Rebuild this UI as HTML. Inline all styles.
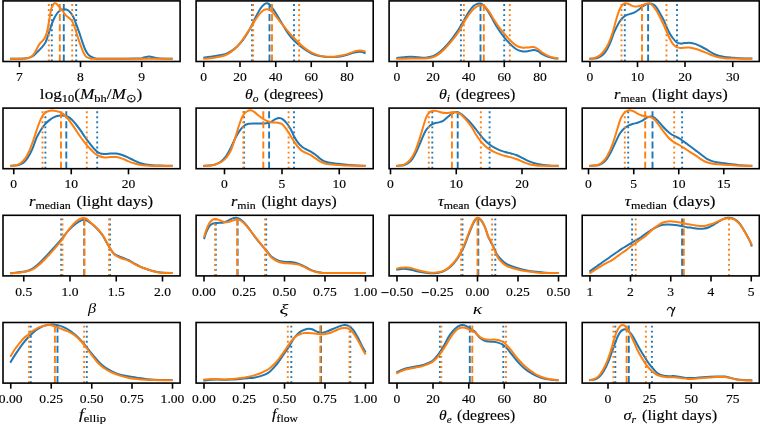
<!DOCTYPE html><html><head><meta charset="utf-8"><style>html,body{margin:0;padding:0;background:#fff;width:760px;height:424px;overflow:hidden}svg{display:block;will-change:transform}text{font-family:"Liberation Serif",serif;fill:#000;stroke:#000;stroke-width:0.15px}.tk{font-size:12.70px}</style></head><body><svg width="760" height="424" viewBox="0 0 760 424"><g><path d="M10.00,58.70 C12.50,58.67 21.28,58.90 25.00,58.50 C28.72,58.10 30.35,57.28 32.30,56.30 C34.25,55.32 35.23,53.95 36.70,52.60 C38.17,51.25 39.63,49.90 41.10,48.20 C42.57,46.50 44.17,45.07 45.50,42.40 C46.83,39.73 48.02,35.37 49.10,32.20 C50.18,29.03 51.02,25.97 52.00,23.40 C52.98,20.83 54.02,18.63 55.00,16.80 C55.98,14.97 56.85,13.55 57.90,12.40 C58.95,11.25 60.20,10.43 61.30,9.90 C62.40,9.37 63.48,9.20 64.50,9.20 C65.52,9.20 66.43,9.37 67.40,9.90 C68.37,10.43 69.33,11.25 70.30,12.40 C71.27,13.55 72.22,14.85 73.20,16.80 C74.18,18.75 75.22,21.53 76.20,24.10 C77.18,26.67 78.13,29.40 79.10,32.20 C80.07,35.00 81.03,38.10 82.00,40.90 C82.97,43.70 83.92,46.80 84.90,49.00 C85.88,51.20 86.80,52.77 87.90,54.10 C89.00,55.43 90.05,56.22 91.50,57.00 C92.95,57.78 95.18,58.50 96.60,58.80 C98.02,59.10 93.10,58.83 100.00,58.80 C106.90,58.77 130.83,58.77 138.00,58.60 C145.17,58.43 141.17,58.17 143.00,57.80 C144.83,57.43 147.00,56.40 149.00,56.40 C151.00,56.40 153.17,57.43 155.00,57.80 C156.83,58.17 157.07,58.43 160.00,58.60 C162.93,58.77 170.50,58.77 172.60,58.80" fill="none" stroke="#1f77b4" stroke-width="2.0" stroke-linejoin="round" stroke-linecap="butt"/><line x1="51.80" y1="61.50" x2="51.80" y2="0.90" stroke="#1f77b4" stroke-width="1.9" stroke-dasharray="1.9,3.15"/><line x1="76.20" y1="61.50" x2="76.20" y2="0.90" stroke="#1f77b4" stroke-width="1.9" stroke-dasharray="1.9,3.15"/><line x1="63.80" y1="61.50" x2="63.80" y2="0.90" stroke="#1f77b4" stroke-width="1.9" stroke-dasharray="7.0,3.1"/><path d="M10.00,58.70 C12.50,58.67 21.77,58.67 25.00,58.50 C28.23,58.33 27.93,58.43 29.40,57.70 C30.87,56.97 32.58,55.55 33.80,54.10 C35.02,52.65 35.73,50.70 36.70,49.00 C37.67,47.30 38.63,45.25 39.60,43.90 C40.57,42.55 41.65,41.88 42.50,40.90 C43.35,39.92 43.97,39.45 44.70,38.00 C45.43,36.55 46.28,34.38 46.90,32.20 C47.52,30.02 47.90,27.58 48.40,24.90 C48.90,22.22 49.42,18.78 49.90,16.10 C50.38,13.42 50.70,10.80 51.30,8.80 C51.90,6.80 52.82,5.03 53.50,4.10 C54.18,3.17 54.73,3.10 55.40,3.20 C56.07,3.30 56.72,3.90 57.50,4.70 C58.28,5.50 59.23,6.95 60.10,8.00 C60.97,9.05 61.85,9.90 62.70,11.00 C63.55,12.10 64.30,13.55 65.20,14.60 C66.10,15.65 67.13,16.45 68.10,17.30 C69.07,18.15 70.15,18.68 71.00,19.70 C71.85,20.72 72.47,21.82 73.20,23.40 C73.93,24.98 74.67,27.02 75.40,29.20 C76.13,31.38 76.73,33.82 77.60,36.50 C78.47,39.18 79.62,42.62 80.60,45.30 C81.58,47.98 82.53,50.65 83.50,52.60 C84.47,54.55 85.18,56.02 86.40,57.00 C87.62,57.98 88.53,58.20 90.80,58.50 C93.07,58.80 86.37,58.75 100.00,58.80 C113.63,58.85 160.50,58.80 172.60,58.80" fill="none" stroke="#ff7f0e" stroke-width="2.0" stroke-linejoin="round" stroke-linecap="butt"/><line x1="48.80" y1="61.50" x2="48.80" y2="0.90" stroke="#ff7f0e" stroke-width="1.9" stroke-dasharray="1.9,3.15"/><line x1="72.20" y1="61.50" x2="72.20" y2="0.90" stroke="#ff7f0e" stroke-width="1.9" stroke-dasharray="1.9,3.15"/><line x1="59.80" y1="61.50" x2="59.80" y2="0.90" stroke="#ff7f0e" stroke-width="1.9" stroke-dasharray="7.0,3.1"/><rect x="3.00" y="0.90" width="177.10" height="60.60" fill="none" stroke="#000" stroke-width="1.6"/><line x1="19.40" y1="61.50" x2="19.40" y2="67.10" stroke="#000" stroke-width="1.6"/><g transform="translate(19.40,81.20) scale(1.070,1)"><text x="0" y="0" class="tk" text-anchor="middle">7</text></g><line x1="80.50" y1="61.50" x2="80.50" y2="67.10" stroke="#000" stroke-width="1.6"/><g transform="translate(80.50,81.20) scale(1.070,1)"><text x="0" y="0" class="tk" text-anchor="middle">8</text></g><line x1="141.70" y1="61.50" x2="141.70" y2="67.10" stroke="#000" stroke-width="1.6"/><g transform="translate(141.70,81.20) scale(1.070,1)"><text x="0" y="0" class="tk" text-anchor="middle">9</text></g><g transform="translate(39.85,98.70) scale(1.1494,1)"><text id="lab0" x="0" y="0"><tspan font-style="normal" font-size="15.00" dy="0.00" dx="0.00">log</tspan><tspan font-style="normal" font-size="10.80" dy="3.00" dx="0.00">10</tspan><tspan font-style="normal" font-size="15.00" dy="-3.00" dx="0.00">(</tspan><tspan font-style="italic" font-size="15.00" dy="0.00" dx="0.00">M</tspan><tspan font-style="normal" font-size="10.80" dy="3.00" dx="0.00">bh</tspan><tspan font-style="normal" font-size="15.00" dy="-3.00" dx="0.00">/</tspan><tspan font-style="italic" font-size="15.00" dy="0.00" dx="0.00">M</tspan><tspan font-style="normal" font-size="10.80" dy="3.00" dx="0.00">⊙</tspan><tspan font-style="normal" font-size="15.00" dy="-3.00" dx="0.00">)</tspan></text></g></g><g><path d="M203.30,57.70 C204.52,57.53 208.17,57.05 210.60,56.70 C213.03,56.35 215.47,56.03 217.90,55.60 C220.33,55.17 223.00,54.83 225.20,54.10 C227.40,53.37 229.15,52.42 231.10,51.20 C233.05,49.98 234.95,48.63 236.90,46.80 C238.85,44.97 241.08,42.40 242.80,40.20 C244.52,38.00 245.73,36.03 247.20,33.60 C248.67,31.17 250.15,28.40 251.60,25.60 C253.05,22.80 254.45,19.60 255.90,16.80 C257.35,14.00 258.95,10.87 260.30,8.80 C261.65,6.73 262.90,5.33 264.00,4.40 C265.10,3.47 266.05,3.25 266.90,3.20 C267.75,3.15 268.37,3.53 269.10,4.10 C269.83,4.67 270.33,5.33 271.30,6.60 C272.27,7.87 273.57,9.63 274.90,11.70 C276.23,13.77 277.83,16.57 279.30,19.00 C280.77,21.43 282.32,24.03 283.70,26.30 C285.08,28.57 286.25,30.65 287.60,32.60 C288.95,34.55 290.37,36.37 291.80,38.00 C293.23,39.63 294.75,41.05 296.20,42.40 C297.65,43.75 298.80,44.77 300.50,46.10 C302.20,47.43 304.45,49.12 306.40,50.40 C308.35,51.68 310.02,52.87 312.20,53.80 C314.38,54.73 317.05,55.47 319.50,56.00 C321.95,56.53 324.45,56.83 326.90,57.00 C329.35,57.17 331.77,57.12 334.20,57.00 C336.63,56.88 339.32,56.67 341.50,56.30 C343.68,55.93 345.35,55.37 347.30,54.80 C349.25,54.23 351.48,53.38 353.20,52.90 C354.92,52.42 356.13,52.07 357.60,51.90 C359.07,51.73 360.67,51.65 362.00,51.90 C363.33,52.15 365.00,53.15 365.60,53.40" fill="none" stroke="#1f77b4" stroke-width="2.0" stroke-linejoin="round" stroke-linecap="butt"/><line x1="252.00" y1="61.50" x2="252.00" y2="0.90" stroke="#1f77b4" stroke-width="1.9" stroke-dasharray="1.9,3.15"/><line x1="294.00" y1="61.50" x2="294.00" y2="0.90" stroke="#1f77b4" stroke-width="1.9" stroke-dasharray="1.9,3.15"/><line x1="269.50" y1="61.50" x2="269.50" y2="0.90" stroke="#1f77b4" stroke-width="1.9" stroke-dasharray="7.0,3.1"/><path d="M203.30,58.80 C204.52,58.70 208.17,58.50 210.60,58.20 C213.03,57.90 215.47,57.48 217.90,57.00 C220.33,56.52 223.00,56.15 225.20,55.30 C227.40,54.45 229.15,53.32 231.10,51.90 C233.05,50.48 234.95,48.87 236.90,46.80 C238.85,44.73 241.08,41.82 242.80,39.50 C244.52,37.18 245.73,35.10 247.20,32.90 C248.67,30.70 250.15,28.62 251.60,26.30 C253.05,23.98 254.45,21.18 255.90,19.00 C257.35,16.82 258.95,14.72 260.30,13.20 C261.65,11.68 262.90,10.57 264.00,9.90 C265.10,9.23 265.93,9.20 266.90,9.20 C267.87,9.20 268.82,9.37 269.80,9.90 C270.78,10.43 271.70,11.25 272.80,12.40 C273.90,13.55 275.07,15.08 276.40,16.80 C277.73,18.52 279.33,20.87 280.80,22.70 C282.27,24.53 284.10,26.47 285.20,27.80 C286.30,29.13 286.30,29.37 287.40,30.70 C288.50,32.03 290.33,34.22 291.80,35.80 C293.27,37.38 294.75,38.73 296.20,40.20 C297.65,41.67 298.80,43.07 300.50,44.60 C302.20,46.13 304.45,48.02 306.40,49.40 C308.35,50.78 310.02,51.87 312.20,52.90 C314.38,53.93 317.05,54.97 319.50,55.60 C321.95,56.23 324.45,56.52 326.90,56.70 C329.35,56.88 331.77,56.88 334.20,56.70 C336.63,56.52 339.32,56.03 341.50,55.60 C343.68,55.17 345.35,54.72 347.30,54.10 C349.25,53.48 351.48,52.47 353.20,51.90 C354.92,51.33 356.13,50.90 357.60,50.70 C359.07,50.50 360.67,50.55 362.00,50.70 C363.33,50.85 365.00,51.45 365.60,51.60" fill="none" stroke="#ff7f0e" stroke-width="2.0" stroke-linejoin="round" stroke-linecap="butt"/><line x1="253.20" y1="61.50" x2="253.20" y2="0.90" stroke="#ff7f0e" stroke-width="1.9" stroke-dasharray="1.9,3.15"/><line x1="299.10" y1="61.50" x2="299.10" y2="0.90" stroke="#ff7f0e" stroke-width="1.9" stroke-dasharray="1.9,3.15"/><line x1="272.00" y1="61.50" x2="272.00" y2="0.90" stroke="#ff7f0e" stroke-width="1.9" stroke-dasharray="7.0,3.1"/><rect x="196.10" y="0.90" width="177.10" height="60.60" fill="none" stroke="#000" stroke-width="1.6"/><line x1="203.75" y1="61.50" x2="203.75" y2="67.10" stroke="#000" stroke-width="1.6"/><g transform="translate(203.75,81.20) scale(1.070,1)"><text x="0" y="0" class="tk" text-anchor="middle">0</text></g><line x1="240.00" y1="61.50" x2="240.00" y2="67.10" stroke="#000" stroke-width="1.6"/><g transform="translate(240.00,81.20) scale(1.070,1)"><text x="0" y="0" class="tk" text-anchor="middle">20</text></g><line x1="275.75" y1="61.50" x2="275.75" y2="67.10" stroke="#000" stroke-width="1.6"/><g transform="translate(275.75,81.20) scale(1.070,1)"><text x="0" y="0" class="tk" text-anchor="middle">40</text></g><line x1="311.25" y1="61.50" x2="311.25" y2="67.10" stroke="#000" stroke-width="1.6"/><g transform="translate(311.25,81.20) scale(1.070,1)"><text x="0" y="0" class="tk" text-anchor="middle">60</text></g><line x1="347.00" y1="61.50" x2="347.00" y2="67.10" stroke="#000" stroke-width="1.6"/><g transform="translate(347.00,81.20) scale(1.070,1)"><text x="0" y="0" class="tk" text-anchor="middle">80</text></g><g transform="translate(244.94,98.70) scale(1.0625,1)"><text id="lab1" x="0" y="0"><tspan font-style="italic" font-size="15.00" dy="0.00" dx="0.00">θ</tspan><tspan font-style="italic" font-size="10.80" dy="3.00" dx="0.00">o</tspan><tspan font-style="normal" font-size="15.00" dy="-3.00" dx="1.50"> (degrees)</tspan></text></g></g><g><path d="M396.30,58.00 C397.52,57.88 401.17,57.52 403.60,57.30 C406.03,57.08 408.47,56.70 410.90,56.70 C413.33,56.70 415.77,57.13 418.20,57.30 C420.63,57.47 423.05,57.87 425.50,57.70 C427.95,57.53 430.70,57.10 432.90,56.30 C435.10,55.50 436.75,54.37 438.70,52.90 C440.65,51.43 442.65,49.50 444.60,47.50 C446.55,45.50 448.45,43.33 450.40,40.90 C452.35,38.47 454.60,35.33 456.30,32.90 C458.00,30.47 459.15,28.73 460.60,26.30 C462.05,23.87 463.53,20.85 465.00,18.30 C466.47,15.75 467.93,13.08 469.40,11.00 C470.87,8.92 472.45,7.00 473.80,5.80 C475.15,4.60 476.47,4.17 477.50,3.80 C478.53,3.43 479.25,3.55 480.00,3.60 C480.75,3.65 481.13,3.48 482.00,4.10 C482.87,4.72 483.93,5.67 485.20,7.30 C486.47,8.93 488.13,11.47 489.60,13.90 C491.07,16.33 492.53,19.35 494.00,21.90 C495.47,24.45 496.70,26.63 498.40,29.20 C500.10,31.77 502.25,34.85 504.20,37.30 C506.15,39.75 508.15,41.95 510.10,43.90 C512.05,45.85 513.95,47.78 515.90,49.00 C517.85,50.22 519.85,50.83 521.80,51.20 C523.75,51.57 525.65,51.38 527.60,51.20 C529.55,51.02 531.78,50.10 533.50,50.10 C535.22,50.10 536.43,50.53 537.90,51.20 C539.37,51.87 540.60,53.18 542.30,54.10 C544.00,55.02 546.15,56.02 548.10,56.70 C550.05,57.38 552.30,57.90 554.00,58.20 C555.70,58.50 557.58,58.45 558.30,58.50" fill="none" stroke="#1f77b4" stroke-width="2.0" stroke-linejoin="round" stroke-linecap="butt"/><line x1="460.90" y1="61.50" x2="460.90" y2="0.90" stroke="#1f77b4" stroke-width="1.9" stroke-dasharray="1.9,3.15"/><line x1="504.20" y1="61.50" x2="504.20" y2="0.90" stroke="#1f77b4" stroke-width="1.9" stroke-dasharray="1.9,3.15"/><line x1="480.50" y1="61.50" x2="480.50" y2="0.90" stroke="#1f77b4" stroke-width="1.9" stroke-dasharray="7.0,3.1"/><path d="M396.30,58.80 C398.73,58.75 406.03,58.55 410.90,58.50 C415.77,58.45 421.83,58.70 425.50,58.50 C429.17,58.30 430.70,58.03 432.90,57.30 C435.10,56.57 436.75,55.48 438.70,54.10 C440.65,52.72 442.65,50.95 444.60,49.00 C446.55,47.05 448.45,44.72 450.40,42.40 C452.35,40.08 454.60,37.42 456.30,35.10 C458.00,32.78 459.15,30.93 460.60,28.50 C462.05,26.07 463.53,22.93 465.00,20.50 C466.47,18.07 467.93,15.85 469.40,13.90 C470.87,11.95 472.45,10.10 473.80,8.80 C475.15,7.50 476.28,6.67 477.50,6.10 C478.72,5.53 480.10,5.53 481.10,5.40 C482.10,5.27 482.82,5.10 483.50,5.30 C484.18,5.50 484.18,5.42 485.20,6.60 C486.22,7.78 488.13,10.22 489.60,12.40 C491.07,14.58 492.53,17.38 494.00,19.70 C495.47,22.02 496.70,23.98 498.40,26.30 C500.10,28.62 502.25,31.28 504.20,33.60 C506.15,35.92 508.15,38.25 510.10,40.20 C512.05,42.15 513.95,44.08 515.90,45.30 C517.85,46.52 519.85,47.13 521.80,47.50 C523.75,47.87 525.65,47.57 527.60,47.50 C529.55,47.43 531.78,46.85 533.50,47.10 C535.22,47.35 536.43,48.08 537.90,49.00 C539.37,49.92 540.60,51.47 542.30,52.60 C544.00,53.73 546.15,54.95 548.10,55.80 C550.05,56.65 552.30,57.25 554.00,57.70 C555.70,58.15 557.58,58.37 558.30,58.50" fill="none" stroke="#ff7f0e" stroke-width="2.0" stroke-linejoin="round" stroke-linecap="butt"/><line x1="463.90" y1="61.50" x2="463.90" y2="0.90" stroke="#ff7f0e" stroke-width="1.9" stroke-dasharray="1.9,3.15"/><line x1="509.80" y1="61.50" x2="509.80" y2="0.90" stroke="#ff7f0e" stroke-width="1.9" stroke-dasharray="1.9,3.15"/><line x1="483.80" y1="61.50" x2="483.80" y2="0.90" stroke="#ff7f0e" stroke-width="1.9" stroke-dasharray="7.0,3.1"/><rect x="389.10" y="0.90" width="177.10" height="60.60" fill="none" stroke="#000" stroke-width="1.6"/><line x1="397.00" y1="61.50" x2="397.00" y2="67.10" stroke="#000" stroke-width="1.6"/><g transform="translate(397.00,81.20) scale(1.070,1)"><text x="0" y="0" class="tk" text-anchor="middle">0</text></g><line x1="433.00" y1="61.50" x2="433.00" y2="67.10" stroke="#000" stroke-width="1.6"/><g transform="translate(433.00,81.20) scale(1.070,1)"><text x="0" y="0" class="tk" text-anchor="middle">20</text></g><line x1="468.75" y1="61.50" x2="468.75" y2="67.10" stroke="#000" stroke-width="1.6"/><g transform="translate(468.75,81.20) scale(1.070,1)"><text x="0" y="0" class="tk" text-anchor="middle">40</text></g><line x1="504.25" y1="61.50" x2="504.25" y2="67.10" stroke="#000" stroke-width="1.6"/><g transform="translate(504.25,81.20) scale(1.070,1)"><text x="0" y="0" class="tk" text-anchor="middle">60</text></g><line x1="540.00" y1="61.50" x2="540.00" y2="67.10" stroke="#000" stroke-width="1.6"/><g transform="translate(540.00,81.20) scale(1.070,1)"><text x="0" y="0" class="tk" text-anchor="middle">80</text></g><g transform="translate(438.93,98.70) scale(1.0714,1)"><text id="lab2" x="0" y="0"><tspan font-style="italic" font-size="15.00" dy="0.00" dx="0.00">θ</tspan><tspan font-style="italic" font-size="10.80" dy="3.00" dx="0.00">i</tspan><tspan font-style="normal" font-size="15.00" dy="-3.00" dx="1.50"> (degrees)</tspan></text></g></g><g><path d="M589.30,58.80 C590.52,58.70 594.65,58.62 596.60,58.20 C598.55,57.78 599.53,57.35 601.00,56.30 C602.47,55.25 603.93,53.97 605.40,51.90 C606.87,49.83 608.33,47.18 609.80,43.90 C611.27,40.62 612.75,35.62 614.20,32.20 C615.65,28.78 617.17,25.72 618.50,23.40 C619.83,21.08 620.97,19.63 622.20,18.30 C623.43,16.97 624.57,16.13 625.90,15.40 C627.23,14.67 628.75,14.40 630.20,13.90 C631.65,13.40 633.13,13.13 634.60,12.40 C636.07,11.67 637.53,10.60 639.00,9.50 C640.47,8.40 641.93,6.77 643.40,5.80 C644.87,4.83 646.47,4.05 647.80,3.70 C649.13,3.35 650.18,3.35 651.40,3.70 C652.62,4.05 653.75,4.35 655.10,5.80 C656.45,7.25 658.03,9.95 659.50,12.40 C660.97,14.85 662.65,17.90 663.90,20.50 C665.15,23.10 666.07,25.92 667.00,28.00 C667.93,30.08 668.57,31.37 669.50,33.00 C670.43,34.63 671.48,36.30 672.60,37.80 C673.72,39.30 674.87,41.03 676.20,42.00 C677.53,42.97 679.13,43.42 680.60,43.60 C682.07,43.78 683.53,43.23 685.00,43.10 C686.47,42.97 687.70,42.67 689.40,42.80 C691.10,42.93 693.25,43.28 695.20,43.90 C697.15,44.52 699.15,45.53 701.10,46.50 C703.05,47.47 704.95,48.55 706.90,49.70 C708.85,50.85 710.85,52.38 712.80,53.40 C714.75,54.42 716.65,55.20 718.60,55.80 C720.55,56.40 722.30,56.68 724.50,57.00 C726.70,57.32 729.37,57.50 731.80,57.70 C734.23,57.90 735.68,58.07 739.10,58.20 C742.52,58.33 750.10,58.45 752.30,58.50" fill="none" stroke="#1f77b4" stroke-width="2.0" stroke-linejoin="round" stroke-linecap="butt"/><line x1="624.80" y1="61.50" x2="624.80" y2="0.90" stroke="#1f77b4" stroke-width="1.9" stroke-dasharray="1.9,3.15"/><line x1="677.00" y1="61.50" x2="677.00" y2="0.90" stroke="#1f77b4" stroke-width="1.9" stroke-dasharray="1.9,3.15"/><line x1="648.10" y1="61.50" x2="648.10" y2="0.90" stroke="#1f77b4" stroke-width="1.9" stroke-dasharray="7.0,3.1"/><path d="M589.30,58.80 C590.28,58.62 593.50,58.23 595.20,57.70 C596.90,57.17 598.05,56.68 599.50,55.60 C600.95,54.52 602.43,53.15 603.90,51.20 C605.37,49.25 606.83,47.07 608.30,43.90 C609.77,40.73 611.35,36.35 612.70,32.20 C614.05,28.05 615.30,22.67 616.40,19.00 C617.50,15.33 618.33,12.52 619.30,10.20 C620.27,7.88 621.23,6.27 622.20,5.10 C623.17,3.93 624.12,3.43 625.10,3.20 C626.08,2.97 627.00,3.30 628.10,3.70 C629.20,4.10 630.48,5.12 631.70,5.60 C632.92,6.08 634.18,6.52 635.40,6.60 C636.62,6.68 637.78,6.35 639.00,6.10 C640.22,5.85 641.48,5.50 642.70,5.10 C643.92,4.70 645.20,3.93 646.30,3.70 C647.40,3.47 648.32,3.47 649.30,3.70 C650.28,3.93 650.98,3.88 652.20,5.10 C653.42,6.32 655.15,8.68 656.60,11.00 C658.05,13.32 659.45,16.08 660.90,19.00 C662.35,21.92 663.92,25.42 665.30,28.50 C666.68,31.58 667.95,34.93 669.20,37.50 C670.45,40.07 671.63,42.35 672.80,43.90 C673.97,45.45 674.90,46.12 676.20,46.80 C677.50,47.48 679.13,47.85 680.60,48.00 C682.07,48.15 683.53,47.78 685.00,47.70 C686.47,47.62 687.70,47.33 689.40,47.50 C691.10,47.67 693.25,48.17 695.20,48.70 C697.15,49.23 699.15,49.97 701.10,50.70 C703.05,51.43 704.95,52.28 706.90,53.10 C708.85,53.92 710.85,54.90 712.80,55.60 C714.75,56.30 716.65,56.87 718.60,57.30 C720.55,57.73 722.30,58.00 724.50,58.20 C726.70,58.40 727.17,58.40 731.80,58.50 C736.43,58.60 748.88,58.75 752.30,58.80" fill="none" stroke="#ff7f0e" stroke-width="2.0" stroke-linejoin="round" stroke-linecap="butt"/><line x1="621.50" y1="61.50" x2="621.50" y2="0.90" stroke="#ff7f0e" stroke-width="1.9" stroke-dasharray="1.9,3.15"/><line x1="666.50" y1="61.50" x2="666.50" y2="0.90" stroke="#ff7f0e" stroke-width="1.9" stroke-dasharray="1.9,3.15"/><line x1="642.00" y1="61.50" x2="642.00" y2="0.90" stroke="#ff7f0e" stroke-width="1.9" stroke-dasharray="7.0,3.1"/><rect x="582.20" y="0.90" width="177.10" height="60.60" fill="none" stroke="#000" stroke-width="1.6"/><line x1="590.00" y1="61.50" x2="590.00" y2="67.10" stroke="#000" stroke-width="1.6"/><g transform="translate(590.00,81.20) scale(1.070,1)"><text x="0" y="0" class="tk" text-anchor="middle">0</text></g><line x1="637.50" y1="61.50" x2="637.50" y2="67.10" stroke="#000" stroke-width="1.6"/><g transform="translate(637.50,81.20) scale(1.070,1)"><text x="0" y="0" class="tk" text-anchor="middle">10</text></g><line x1="685.00" y1="61.50" x2="685.00" y2="67.10" stroke="#000" stroke-width="1.6"/><g transform="translate(685.00,81.20) scale(1.070,1)"><text x="0" y="0" class="tk" text-anchor="middle">20</text></g><line x1="732.75" y1="61.50" x2="732.75" y2="67.10" stroke="#000" stroke-width="1.6"/><g transform="translate(732.75,81.20) scale(1.070,1)"><text x="0" y="0" class="tk" text-anchor="middle">30</text></g><g transform="translate(613.95,98.70) scale(1.1029,1)"><text id="lab3" x="0" y="0"><tspan font-style="italic" font-size="15.00" dy="0.00" dx="0.00">r</tspan><tspan font-style="normal" font-size="10.80" dy="3.00" dx="0.00">mean</tspan><tspan font-style="normal" font-size="15.00" dy="-3.00" dx="1.50"> (light days)</tspan></text></g></g><g><path d="M10.30,165.90 C11.52,165.78 15.40,165.75 17.60,165.20 C19.80,164.65 21.78,163.90 23.50,162.60 C25.22,161.30 26.45,159.60 27.90,157.40 C29.35,155.20 30.75,152.68 32.20,149.40 C33.65,146.12 35.13,140.98 36.60,137.70 C38.07,134.42 39.53,132.02 41.00,129.70 C42.47,127.38 43.93,125.43 45.40,123.80 C46.87,122.17 48.33,121.00 49.80,119.90 C51.27,118.80 52.73,117.88 54.20,117.20 C55.67,116.52 57.15,116.08 58.60,115.80 C60.05,115.52 61.45,115.38 62.90,115.50 C64.35,115.62 65.83,115.85 67.30,116.50 C68.77,117.15 70.23,118.07 71.70,119.40 C73.17,120.73 74.63,122.67 76.10,124.50 C77.57,126.33 79.03,128.32 80.50,130.40 C81.97,132.48 83.43,134.93 84.90,137.00 C86.37,139.07 87.78,140.87 89.30,142.80 C90.82,144.73 92.42,146.93 94.00,148.60 C95.58,150.27 97.03,151.88 98.80,152.80 C100.57,153.72 102.65,153.98 104.60,154.10 C106.55,154.22 108.55,153.60 110.50,153.50 C112.45,153.40 114.35,153.25 116.30,153.50 C118.25,153.75 120.25,154.35 122.20,155.00 C124.15,155.65 126.05,156.50 128.00,157.40 C129.95,158.30 131.95,159.47 133.90,160.40 C135.85,161.33 137.75,162.32 139.70,163.00 C141.65,163.68 143.40,164.13 145.60,164.50 C147.80,164.87 150.47,165.03 152.90,165.20 C155.33,165.37 156.92,165.40 160.20,165.50 C163.48,165.60 170.53,165.75 172.60,165.80" fill="none" stroke="#1f77b4" stroke-width="2.0" stroke-linejoin="round" stroke-linecap="butt"/><line x1="45.40" y1="168.70" x2="45.40" y2="108.10" stroke="#1f77b4" stroke-width="1.9" stroke-dasharray="1.9,3.15"/><line x1="97.20" y1="168.70" x2="97.20" y2="108.10" stroke="#1f77b4" stroke-width="1.9" stroke-dasharray="1.9,3.15"/><line x1="66.30" y1="168.70" x2="66.30" y2="108.10" stroke="#1f77b4" stroke-width="1.9" stroke-dasharray="7.0,3.1"/><path d="M10.30,165.90 C11.28,165.78 14.50,165.63 16.20,165.20 C17.90,164.77 19.05,164.35 20.50,163.30 C21.95,162.25 23.43,160.97 24.90,158.90 C26.37,156.83 27.83,154.18 29.30,150.90 C30.77,147.62 32.23,143.35 33.70,139.20 C35.17,135.05 36.77,129.67 38.10,126.00 C39.43,122.33 40.48,119.43 41.70,117.20 C42.92,114.97 44.05,113.68 45.40,112.60 C46.75,111.52 48.33,111.02 49.80,110.70 C51.27,110.38 52.73,110.53 54.20,110.70 C55.67,110.87 57.15,111.22 58.60,111.70 C60.05,112.18 61.45,112.55 62.90,113.60 C64.35,114.65 65.83,116.30 67.30,118.00 C68.77,119.70 70.23,121.73 71.70,123.80 C73.17,125.87 74.63,128.20 76.10,130.40 C77.57,132.60 79.03,134.93 80.50,137.00 C81.97,139.07 83.43,140.98 84.90,142.80 C86.37,144.62 87.78,146.25 89.30,147.90 C90.82,149.55 92.42,151.35 94.00,152.70 C95.58,154.05 97.03,155.22 98.80,156.00 C100.57,156.78 102.65,157.22 104.60,157.40 C106.55,157.58 108.55,157.15 110.50,157.10 C112.45,157.05 114.35,156.85 116.30,157.10 C118.25,157.35 120.25,157.93 122.20,158.60 C124.15,159.27 126.05,160.32 128.00,161.10 C129.95,161.88 131.95,162.70 133.90,163.30 C135.85,163.90 137.75,164.33 139.70,164.70 C141.65,165.07 143.40,165.30 145.60,165.50 C147.80,165.70 148.40,165.80 152.90,165.90 C157.40,166.00 169.32,166.07 172.60,166.10" fill="none" stroke="#ff7f0e" stroke-width="2.0" stroke-linejoin="round" stroke-linecap="butt"/><line x1="42.50" y1="168.70" x2="42.50" y2="108.10" stroke="#ff7f0e" stroke-width="1.9" stroke-dasharray="1.9,3.15"/><line x1="86.80" y1="168.70" x2="86.80" y2="108.10" stroke="#ff7f0e" stroke-width="1.9" stroke-dasharray="1.9,3.15"/><line x1="61.00" y1="168.70" x2="61.00" y2="108.10" stroke="#ff7f0e" stroke-width="1.9" stroke-dasharray="7.0,3.1"/><rect x="3.00" y="108.10" width="177.10" height="60.60" fill="none" stroke="#000" stroke-width="1.6"/><line x1="13.75" y1="168.70" x2="13.75" y2="174.30" stroke="#000" stroke-width="1.6"/><g transform="translate(13.75,188.40) scale(1.070,1)"><text x="0" y="0" class="tk" text-anchor="middle">0</text></g><line x1="71.25" y1="168.70" x2="71.25" y2="174.30" stroke="#000" stroke-width="1.6"/><g transform="translate(71.25,188.40) scale(1.070,1)"><text x="0" y="0" class="tk" text-anchor="middle">10</text></g><line x1="128.50" y1="168.70" x2="128.50" y2="174.30" stroke="#000" stroke-width="1.6"/><g transform="translate(128.50,188.40) scale(1.070,1)"><text x="0" y="0" class="tk" text-anchor="middle">20</text></g><g transform="translate(28.94,205.90) scale(1.1136,1)"><text id="lab4" x="0" y="0"><tspan font-style="italic" font-size="15.00" dy="0.00" dx="0.00">r</tspan><tspan font-style="normal" font-size="10.80" dy="3.00" dx="0.00">median</tspan><tspan font-style="normal" font-size="15.00" dy="-3.00" dx="1.50"> (light days)</tspan></text></g></g><g><path d="M203.30,165.90 C204.77,165.78 209.67,165.63 212.10,165.20 C214.53,164.77 216.20,164.10 217.90,163.30 C219.60,162.50 220.83,161.75 222.30,160.40 C223.77,159.05 225.23,157.40 226.70,155.20 C228.17,153.00 229.63,150.12 231.10,147.20 C232.57,144.28 234.03,140.50 235.50,137.70 C236.97,134.90 238.45,132.40 239.90,130.40 C241.35,128.40 242.75,126.80 244.20,125.70 C245.65,124.60 246.88,124.18 248.60,123.80 C250.32,123.42 252.55,123.47 254.50,123.40 C256.45,123.33 258.35,123.43 260.30,123.40 C262.25,123.37 264.48,123.42 266.20,123.20 C267.92,122.98 269.15,122.73 270.60,122.10 C272.05,121.47 273.45,120.08 274.90,119.40 C276.35,118.72 277.92,117.97 279.30,118.00 C280.68,118.03 281.93,118.68 283.20,119.60 C284.47,120.52 285.72,122.02 286.90,123.50 C288.08,124.98 289.12,126.38 290.30,128.50 C291.48,130.62 292.78,133.93 294.00,136.20 C295.22,138.47 296.27,140.33 297.60,142.10 C298.93,143.87 300.53,145.58 302.00,146.80 C303.47,148.02 304.93,148.60 306.40,149.40 C307.87,150.20 309.33,150.75 310.80,151.60 C312.27,152.45 313.75,153.40 315.20,154.50 C316.65,155.60 318.05,157.10 319.50,158.20 C320.95,159.30 322.18,160.33 323.90,161.10 C325.62,161.87 327.60,162.37 329.80,162.80 C332.00,163.23 334.67,163.42 337.10,163.70 C339.53,163.98 341.72,164.25 344.40,164.50 C347.08,164.75 349.67,164.98 353.20,165.20 C356.73,165.42 363.53,165.70 365.60,165.80" fill="none" stroke="#1f77b4" stroke-width="2.0" stroke-linejoin="round" stroke-linecap="butt"/><line x1="244.10" y1="168.70" x2="244.10" y2="108.10" stroke="#1f77b4" stroke-width="1.9" stroke-dasharray="1.9,3.15"/><line x1="294.00" y1="168.70" x2="294.00" y2="108.10" stroke="#1f77b4" stroke-width="1.9" stroke-dasharray="1.9,3.15"/><line x1="269.10" y1="168.70" x2="269.10" y2="108.10" stroke="#1f77b4" stroke-width="1.9" stroke-dasharray="7.0,3.1"/><path d="M203.30,165.90 C204.52,165.83 208.40,165.82 210.60,165.50 C212.80,165.18 214.60,164.67 216.50,164.00 C218.40,163.33 220.33,162.58 222.00,161.50 C223.67,160.42 225.00,159.42 226.50,157.50 C228.00,155.58 229.50,153.42 231.00,150.00 C232.50,146.58 234.12,141.25 235.50,137.00 C236.88,132.75 238.05,128.08 239.30,124.50 C240.55,120.92 241.75,117.67 243.00,115.50 C244.25,113.33 245.50,112.38 246.80,111.50 C248.10,110.62 249.52,110.10 250.80,110.20 C252.08,110.30 253.15,111.17 254.50,112.10 C255.85,113.03 257.43,114.65 258.90,115.80 C260.37,116.95 261.85,118.10 263.30,119.00 C264.75,119.90 266.15,120.63 267.60,121.20 C269.05,121.77 270.28,122.13 272.00,122.40 C273.72,122.67 276.18,122.48 277.90,122.80 C279.62,123.12 280.85,123.17 282.30,124.30 C283.75,125.43 285.28,127.78 286.60,129.60 C287.92,131.42 288.97,133.23 290.20,135.20 C291.43,137.17 292.77,139.52 294.00,141.40 C295.23,143.28 296.27,144.92 297.60,146.50 C298.93,148.08 300.53,149.80 302.00,150.90 C303.47,152.00 304.93,152.38 306.40,153.10 C307.87,153.82 309.33,154.35 310.80,155.20 C312.27,156.05 313.75,157.22 315.20,158.20 C316.65,159.18 318.05,160.25 319.50,161.10 C320.95,161.95 322.18,162.77 323.90,163.30 C325.62,163.83 327.60,164.03 329.80,164.30 C332.00,164.57 334.67,164.70 337.10,164.90 C339.53,165.10 339.65,165.30 344.40,165.50 C349.15,165.70 362.07,166.00 365.60,166.10" fill="none" stroke="#ff7f0e" stroke-width="2.0" stroke-linejoin="round" stroke-linecap="butt"/><line x1="243.30" y1="168.70" x2="243.30" y2="108.10" stroke="#ff7f0e" stroke-width="1.9" stroke-dasharray="1.9,3.15"/><line x1="288.60" y1="168.70" x2="288.60" y2="108.10" stroke="#ff7f0e" stroke-width="1.9" stroke-dasharray="1.9,3.15"/><line x1="263.30" y1="168.70" x2="263.30" y2="108.10" stroke="#ff7f0e" stroke-width="1.9" stroke-dasharray="7.0,3.1"/><rect x="196.10" y="108.10" width="177.10" height="60.60" fill="none" stroke="#000" stroke-width="1.6"/><line x1="224.50" y1="168.70" x2="224.50" y2="174.30" stroke="#000" stroke-width="1.6"/><g transform="translate(224.50,188.40) scale(1.070,1)"><text x="0" y="0" class="tk" text-anchor="middle">0</text></g><line x1="282.00" y1="168.70" x2="282.00" y2="174.30" stroke="#000" stroke-width="1.6"/><g transform="translate(282.00,188.40) scale(1.070,1)"><text x="0" y="0" class="tk" text-anchor="middle">5</text></g><line x1="339.25" y1="168.70" x2="339.25" y2="174.30" stroke="#000" stroke-width="1.6"/><g transform="translate(339.25,188.40) scale(1.070,1)"><text x="0" y="0" class="tk" text-anchor="middle">10</text></g><g transform="translate(230.90,205.90) scale(1.0974,1)"><text id="lab5" x="0" y="0"><tspan font-style="italic" font-size="15.00" dy="0.00" dx="0.00">r</tspan><tspan font-style="normal" font-size="10.80" dy="3.00" dx="0.00">min</tspan><tspan font-style="normal" font-size="15.00" dy="-3.00" dx="1.50"> (light days)</tspan></text></g></g><g><path d="M396.30,165.90 C397.52,165.78 401.65,165.63 403.60,165.20 C405.55,164.77 406.53,164.35 408.00,163.30 C409.47,162.25 410.93,160.97 412.40,158.90 C413.87,156.83 415.33,153.95 416.80,150.90 C418.27,147.85 419.75,143.90 421.20,140.60 C422.65,137.30 424.05,133.58 425.50,131.10 C426.95,128.62 428.43,126.98 429.90,125.70 C431.37,124.42 432.83,123.95 434.30,123.40 C435.77,122.85 437.23,122.82 438.70,122.40 C440.17,121.98 441.63,121.77 443.10,120.90 C444.57,120.03 446.03,118.42 447.50,117.20 C448.97,115.98 450.43,114.45 451.90,113.60 C453.37,112.75 454.85,112.10 456.30,112.10 C457.75,112.10 459.15,112.75 460.60,113.60 C462.05,114.45 463.28,115.62 465.00,117.20 C466.72,118.78 469.00,120.97 470.90,123.10 C472.80,125.23 474.77,127.93 476.40,130.00 C478.03,132.07 479.30,133.78 480.70,135.50 C482.10,137.22 483.38,138.83 484.80,140.30 C486.22,141.77 487.75,143.15 489.20,144.30 C490.65,145.45 491.80,146.23 493.50,147.20 C495.20,148.17 497.45,149.30 499.40,150.10 C501.35,150.90 503.25,151.43 505.20,152.00 C507.15,152.57 509.15,152.97 511.10,153.50 C513.05,154.03 514.95,154.42 516.90,155.20 C518.85,155.98 520.85,157.22 522.80,158.20 C524.75,159.18 526.65,160.25 528.60,161.10 C530.55,161.95 532.30,162.70 534.50,163.30 C536.70,163.90 539.37,164.33 541.80,164.70 C544.23,165.07 546.30,165.32 549.10,165.50 C551.90,165.68 557.02,165.75 558.60,165.80" fill="none" stroke="#1f77b4" stroke-width="2.0" stroke-linejoin="round" stroke-linecap="butt"/><line x1="432.30" y1="168.70" x2="432.30" y2="108.10" stroke="#1f77b4" stroke-width="1.9" stroke-dasharray="1.9,3.15"/><line x1="489.60" y1="168.70" x2="489.60" y2="108.10" stroke="#1f77b4" stroke-width="1.9" stroke-dasharray="1.9,3.15"/><line x1="457.70" y1="168.70" x2="457.70" y2="108.10" stroke="#1f77b4" stroke-width="1.9" stroke-dasharray="7.0,3.1"/><path d="M396.30,165.90 C397.28,165.78 400.50,165.63 402.20,165.20 C403.90,164.77 405.05,164.35 406.50,163.30 C407.95,162.25 409.43,160.97 410.90,158.90 C412.37,156.83 413.83,154.32 415.30,150.90 C416.77,147.48 418.35,142.55 419.70,138.40 C421.05,134.25 422.30,129.53 423.40,126.00 C424.50,122.47 425.22,119.52 426.30,117.20 C427.38,114.88 428.68,113.18 429.90,112.10 C431.12,111.02 432.38,110.87 433.60,110.70 C434.82,110.53 435.87,110.78 437.20,111.10 C438.53,111.42 440.13,112.27 441.60,112.60 C443.07,112.93 444.53,113.10 446.00,113.10 C447.47,113.10 449.05,112.77 450.40,112.60 C451.75,112.43 453.00,112.10 454.10,112.10 C455.20,112.10 455.92,112.23 457.00,112.60 C458.08,112.97 459.27,113.28 460.60,114.30 C461.93,115.32 463.28,116.75 465.00,118.70 C466.72,120.65 469.00,123.25 470.90,126.00 C472.80,128.75 474.78,132.67 476.40,135.20 C478.02,137.73 479.20,139.45 480.60,141.20 C482.00,142.95 483.37,144.38 484.80,145.70 C486.23,147.02 487.75,148.12 489.20,149.10 C490.65,150.08 491.80,150.77 493.50,151.60 C495.20,152.43 497.45,153.37 499.40,154.10 C501.35,154.83 503.25,155.45 505.20,156.00 C507.15,156.55 509.15,156.85 511.10,157.40 C513.05,157.95 514.95,158.57 516.90,159.30 C518.85,160.03 520.85,161.02 522.80,161.80 C524.75,162.58 526.65,163.43 528.60,164.00 C530.55,164.57 532.30,164.90 534.50,165.20 C536.70,165.50 537.78,165.65 541.80,165.80 C545.82,165.95 555.80,166.05 558.60,166.10" fill="none" stroke="#ff7f0e" stroke-width="2.0" stroke-linejoin="round" stroke-linecap="butt"/><line x1="428.80" y1="168.70" x2="428.80" y2="108.10" stroke="#ff7f0e" stroke-width="1.9" stroke-dasharray="1.9,3.15"/><line x1="480.80" y1="168.70" x2="480.80" y2="108.10" stroke="#ff7f0e" stroke-width="1.9" stroke-dasharray="1.9,3.15"/><line x1="451.90" y1="168.70" x2="451.90" y2="108.10" stroke="#ff7f0e" stroke-width="1.9" stroke-dasharray="7.0,3.1"/><rect x="389.10" y="108.10" width="177.10" height="60.60" fill="none" stroke="#000" stroke-width="1.6"/><line x1="390.50" y1="168.70" x2="390.50" y2="174.30" stroke="#000" stroke-width="1.6"/><g transform="translate(390.50,188.40) scale(1.070,1)"><text x="0" y="0" class="tk" text-anchor="middle">0</text></g><line x1="456.25" y1="168.70" x2="456.25" y2="174.30" stroke="#000" stroke-width="1.6"/><g transform="translate(456.25,188.40) scale(1.070,1)"><text x="0" y="0" class="tk" text-anchor="middle">10</text></g><line x1="522.00" y1="168.70" x2="522.00" y2="174.30" stroke="#000" stroke-width="1.6"/><g transform="translate(522.00,188.40) scale(1.070,1)"><text x="0" y="0" class="tk" text-anchor="middle">20</text></g><g transform="translate(437.95,205.90) scale(1.1000,1)"><text id="lab6" x="0" y="0"><tspan font-style="italic" font-size="15.00" dy="0.00" dx="0.00">τ</tspan><tspan font-style="normal" font-size="10.80" dy="3.00" dx="0.00">mean</tspan><tspan font-style="normal" font-size="15.00" dy="-3.00" dx="1.50"> (days)</tspan></text></g></g><g><path d="M589.30,165.90 C590.77,165.78 595.90,165.63 598.10,165.20 C600.30,164.77 601.03,164.35 602.50,163.30 C603.97,162.25 605.45,160.85 606.90,158.90 C608.35,156.95 609.75,154.40 611.20,151.60 C612.65,148.80 614.13,145.15 615.60,142.10 C617.07,139.05 618.53,135.62 620.00,133.30 C621.47,130.98 622.93,129.53 624.40,128.20 C625.87,126.87 627.33,126.03 628.80,125.30 C630.27,124.57 631.73,124.22 633.20,123.80 C634.67,123.38 636.15,123.28 637.60,122.80 C639.05,122.32 640.45,121.70 641.90,120.90 C643.35,120.10 644.95,118.73 646.30,118.00 C647.65,117.27 648.78,116.63 650.00,116.50 C651.22,116.37 652.27,116.47 653.60,117.20 C654.93,117.93 656.53,119.43 658.00,120.90 C659.47,122.37 660.98,124.43 662.40,126.00 C663.82,127.57 665.10,128.97 666.50,130.30 C667.90,131.63 669.42,133.02 670.80,134.00 C672.18,134.98 673.40,135.47 674.80,136.20 C676.20,136.93 677.75,137.53 679.20,138.40 C680.65,139.27 681.80,140.18 683.50,141.40 C685.20,142.62 687.45,144.25 689.40,145.70 C691.35,147.15 693.25,148.63 695.20,150.10 C697.15,151.57 699.15,153.03 701.10,154.50 C703.05,155.97 704.95,157.75 706.90,158.90 C708.85,160.05 710.85,160.78 712.80,161.40 C714.75,162.02 716.65,162.28 718.60,162.60 C720.55,162.92 722.30,163.02 724.50,163.30 C726.70,163.58 729.37,163.98 731.80,164.30 C734.23,164.62 735.68,164.95 739.10,165.20 C742.52,165.45 750.10,165.70 752.30,165.80" fill="none" stroke="#1f77b4" stroke-width="2.0" stroke-linejoin="round" stroke-linecap="butt"/><line x1="628.20" y1="168.70" x2="628.20" y2="108.10" stroke="#1f77b4" stroke-width="1.9" stroke-dasharray="1.9,3.15"/><line x1="682.10" y1="168.70" x2="682.10" y2="108.10" stroke="#1f77b4" stroke-width="1.9" stroke-dasharray="1.9,3.15"/><line x1="652.50" y1="168.70" x2="652.50" y2="108.10" stroke="#1f77b4" stroke-width="1.9" stroke-dasharray="7.0,3.1"/><path d="M589.30,165.90 C590.52,165.78 594.65,165.63 596.60,165.20 C598.55,164.77 599.53,164.35 601.00,163.30 C602.47,162.25 603.93,160.97 605.40,158.90 C606.87,156.83 608.33,154.18 609.80,150.90 C611.27,147.62 612.87,143.10 614.20,139.20 C615.53,135.30 616.72,130.92 617.80,127.50 C618.88,124.08 619.72,121.02 620.70,118.70 C621.68,116.38 622.72,114.87 623.70,113.60 C624.68,112.33 625.63,111.67 626.60,111.10 C627.57,110.53 628.40,110.20 629.50,110.20 C630.60,110.20 631.85,110.53 633.20,111.10 C634.55,111.67 636.15,112.87 637.60,113.60 C639.05,114.33 640.45,115.02 641.90,115.50 C643.35,115.98 644.83,116.22 646.30,116.50 C647.77,116.78 649.23,116.58 650.70,117.20 C652.17,117.82 653.63,118.73 655.10,120.20 C656.57,121.67 658.03,124.05 659.50,126.00 C660.97,127.95 662.43,129.98 663.90,131.90 C665.37,133.82 666.85,135.95 668.30,137.50 C669.75,139.05 671.32,140.23 672.60,141.20 C673.88,142.17 674.90,142.67 676.00,143.30 C677.10,143.93 677.95,144.28 679.20,145.00 C680.45,145.72 681.80,146.50 683.50,147.60 C685.20,148.70 687.45,150.33 689.40,151.60 C691.35,152.87 693.25,153.92 695.20,155.20 C697.15,156.48 699.15,158.12 701.10,159.30 C703.05,160.48 704.95,161.57 706.90,162.30 C708.85,163.03 710.85,163.37 712.80,163.70 C714.75,164.03 716.17,164.10 718.60,164.30 C721.03,164.50 724.47,164.70 727.40,164.90 C730.33,165.10 732.05,165.30 736.20,165.50 C740.35,165.70 749.62,166.00 752.30,166.10" fill="none" stroke="#ff7f0e" stroke-width="2.0" stroke-linejoin="round" stroke-linecap="butt"/><line x1="624.80" y1="168.70" x2="624.80" y2="108.10" stroke="#ff7f0e" stroke-width="1.9" stroke-dasharray="1.9,3.15"/><line x1="674.20" y1="168.70" x2="674.20" y2="108.10" stroke="#ff7f0e" stroke-width="1.9" stroke-dasharray="1.9,3.15"/><line x1="645.20" y1="168.70" x2="645.20" y2="108.10" stroke="#ff7f0e" stroke-width="1.9" stroke-dasharray="7.0,3.1"/><rect x="582.20" y="108.10" width="177.10" height="60.60" fill="none" stroke="#000" stroke-width="1.6"/><line x1="588.50" y1="168.70" x2="588.50" y2="174.30" stroke="#000" stroke-width="1.6"/><g transform="translate(588.50,188.40) scale(1.070,1)"><text x="0" y="0" class="tk" text-anchor="middle">0</text></g><line x1="633.75" y1="168.70" x2="633.75" y2="174.30" stroke="#000" stroke-width="1.6"/><g transform="translate(633.75,188.40) scale(1.070,1)"><text x="0" y="0" class="tk" text-anchor="middle">5</text></g><line x1="678.75" y1="168.70" x2="678.75" y2="174.30" stroke="#000" stroke-width="1.6"/><g transform="translate(678.75,188.40) scale(1.070,1)"><text x="0" y="0" class="tk" text-anchor="middle">10</text></g><line x1="723.75" y1="168.70" x2="723.75" y2="174.30" stroke="#000" stroke-width="1.6"/><g transform="translate(723.75,188.40) scale(1.070,1)"><text x="0" y="0" class="tk" text-anchor="middle">15</text></g><g transform="translate(624.87,205.90) scale(1.1346,1)"><text id="lab7" x="0" y="0"><tspan font-style="italic" font-size="15.00" dy="0.00" dx="0.00">τ</tspan><tspan font-style="normal" font-size="10.80" dy="3.00" dx="0.00">median</tspan><tspan font-style="normal" font-size="15.00" dy="-3.00" dx="1.50"> (days)</tspan></text></g></g><g><path d="M10.30,273.20 C12.73,272.92 21.25,272.23 24.90,271.50 C28.55,270.77 29.77,270.22 32.20,268.80 C34.63,267.38 37.05,265.23 39.50,263.00 C41.95,260.77 44.45,258.02 46.90,255.40 C49.35,252.78 51.77,250.02 54.20,247.30 C56.63,244.58 59.07,241.97 61.50,239.10 C63.93,236.23 66.37,232.70 68.80,230.10 C71.23,227.50 73.90,225.17 76.10,223.50 C78.30,221.83 80.30,220.63 82.00,220.10 C83.70,219.57 84.75,219.73 86.30,220.30 C87.85,220.87 89.75,222.33 91.30,223.50 C92.85,224.67 94.17,225.92 95.60,227.30 C97.03,228.68 98.63,230.30 99.90,231.80 C101.17,233.30 102.05,234.47 103.20,236.30 C104.35,238.13 105.58,240.67 106.80,242.80 C108.02,244.93 109.28,247.27 110.50,249.10 C111.72,250.93 112.65,252.58 114.10,253.80 C115.55,255.02 117.55,255.67 119.20,256.40 C120.85,257.13 122.42,257.57 124.00,258.20 C125.58,258.83 127.05,259.35 128.70,260.20 C130.35,261.05 132.07,262.27 133.90,263.30 C135.73,264.33 137.75,265.50 139.70,266.40 C141.65,267.30 143.65,268.00 145.60,268.70 C147.55,269.40 149.45,270.03 151.40,270.60 C153.35,271.17 155.10,271.73 157.30,272.10 C159.50,272.47 162.05,272.65 164.60,272.80 C167.15,272.95 171.27,272.97 172.60,273.00" fill="none" stroke="#1f77b4" stroke-width="2.0" stroke-linejoin="round" stroke-linecap="butt"/><line x1="61.20" y1="275.90" x2="61.20" y2="215.30" stroke="#1f77b4" stroke-width="1.9" stroke-dasharray="1.9,3.15"/><line x1="110.00" y1="275.90" x2="110.00" y2="215.30" stroke="#1f77b4" stroke-width="1.9" stroke-dasharray="1.9,3.15"/><line x1="84.20" y1="275.90" x2="84.20" y2="215.30" stroke="#1f77b4" stroke-width="1.9" stroke-dasharray="7.0,3.1"/><path d="M10.30,273.20 C11.52,273.13 15.17,273.05 17.60,272.80 C20.03,272.55 22.47,272.23 24.90,271.70 C27.33,271.17 29.77,270.82 32.20,269.60 C34.63,268.38 37.05,266.48 39.50,264.40 C41.95,262.32 44.45,259.65 46.90,257.10 C49.35,254.55 51.77,251.90 54.20,249.10 C56.63,246.30 59.07,243.55 61.50,240.30 C63.93,237.05 66.37,232.73 68.80,229.60 C71.23,226.47 73.90,223.40 76.10,221.50 C78.30,219.60 80.30,218.67 82.00,218.20 C83.70,217.73 84.75,217.87 86.30,218.70 C87.85,219.53 89.75,221.82 91.30,223.20 C92.85,224.58 94.17,225.63 95.60,227.00 C97.03,228.37 98.63,229.92 99.90,231.40 C101.17,232.88 102.05,234.05 103.20,235.90 C104.35,237.75 105.58,240.30 106.80,242.50 C108.02,244.70 109.28,247.15 110.50,249.10 C111.72,251.05 112.77,252.87 114.10,254.20 C115.43,255.53 116.92,256.30 118.50,257.10 C120.08,257.90 121.90,258.38 123.60,259.00 C125.30,259.62 126.98,260.02 128.70,260.80 C130.42,261.58 132.07,262.73 133.90,263.70 C135.73,264.67 137.75,265.75 139.70,266.60 C141.65,267.45 143.65,268.12 145.60,268.80 C147.55,269.48 149.45,270.13 151.40,270.70 C153.35,271.27 155.10,271.83 157.30,272.20 C159.50,272.57 162.05,272.75 164.60,272.90 C167.15,273.05 171.27,273.07 172.60,273.10" fill="none" stroke="#ff7f0e" stroke-width="2.0" stroke-linejoin="round" stroke-linecap="butt"/><line x1="62.50" y1="275.90" x2="62.50" y2="215.30" stroke="#ff7f0e" stroke-width="1.9" stroke-dasharray="1.9,3.15"/><line x1="109.00" y1="275.90" x2="109.00" y2="215.30" stroke="#ff7f0e" stroke-width="1.9" stroke-dasharray="1.9,3.15"/><line x1="84.40" y1="275.90" x2="84.40" y2="215.30" stroke="#ff7f0e" stroke-width="1.9" stroke-dasharray="7.0,3.1"/><rect x="3.00" y="215.30" width="177.10" height="60.60" fill="none" stroke="#000" stroke-width="1.6"/><line x1="23.75" y1="275.90" x2="23.75" y2="281.50" stroke="#000" stroke-width="1.6"/><g transform="translate(23.75,295.60) scale(1.070,1)"><text x="0" y="0" class="tk" text-anchor="middle">0.5</text></g><line x1="70.00" y1="275.90" x2="70.00" y2="281.50" stroke="#000" stroke-width="1.6"/><g transform="translate(70.00,295.60) scale(1.070,1)"><text x="0" y="0" class="tk" text-anchor="middle">1.0</text></g><line x1="116.25" y1="275.90" x2="116.25" y2="281.50" stroke="#000" stroke-width="1.6"/><g transform="translate(116.25,295.60) scale(1.070,1)"><text x="0" y="0" class="tk" text-anchor="middle">1.5</text></g><line x1="162.50" y1="275.90" x2="162.50" y2="281.50" stroke="#000" stroke-width="1.6"/><g transform="translate(162.50,295.60) scale(1.070,1)"><text x="0" y="0" class="tk" text-anchor="middle">2.0</text></g><g transform="translate(88.04,313.10) scale(1.0875,1)"><text id="lab8" x="0" y="0" style="stroke-width:0.00px"><tspan font-style="italic" font-size="15.00" dy="0.00" dx="0.00">β</tspan></text></g></g><g><path d="M204.00,239.10 C204.37,237.97 205.33,234.42 206.20,232.30 C207.07,230.18 208.22,227.80 209.20,226.40 C210.18,225.00 211.13,224.45 212.10,223.90 C213.07,223.35 213.78,223.28 215.00,223.10 C216.22,222.92 217.93,222.90 219.40,222.80 C220.87,222.70 222.33,222.87 223.80,222.50 C225.27,222.13 226.75,221.28 228.20,220.60 C229.65,219.92 231.17,218.88 232.50,218.40 C233.83,217.92 234.97,217.58 236.20,217.70 C237.43,217.82 238.57,218.25 239.90,219.10 C241.23,219.95 242.50,220.97 244.20,222.80 C245.90,224.63 248.15,227.55 250.10,230.10 C252.05,232.65 253.95,235.55 255.90,238.10 C257.85,240.65 259.85,243.08 261.80,245.40 C263.75,247.72 265.90,250.05 267.60,252.00 C269.30,253.95 270.28,255.68 272.00,257.10 C273.72,258.52 275.95,259.72 277.90,260.50 C279.85,261.28 281.63,261.55 283.70,261.80 C285.77,262.05 287.98,261.73 290.30,262.00 C292.62,262.27 295.40,262.75 297.60,263.40 C299.80,264.05 301.55,264.95 303.50,265.90 C305.45,266.85 307.35,268.17 309.30,269.10 C311.25,270.03 313.25,270.93 315.20,271.50 C317.15,272.07 319.05,272.25 321.00,272.50 C322.95,272.75 319.47,272.90 326.90,273.00 C334.33,273.10 359.15,273.08 365.60,273.10" fill="none" stroke="#1f77b4" stroke-width="2.0" stroke-linejoin="round" stroke-linecap="butt"/><line x1="215.80" y1="275.90" x2="215.80" y2="215.30" stroke="#1f77b4" stroke-width="1.9" stroke-dasharray="1.9,3.15"/><line x1="266.20" y1="275.90" x2="266.20" y2="215.30" stroke="#1f77b4" stroke-width="1.9" stroke-dasharray="1.9,3.15"/><line x1="237.60" y1="275.90" x2="237.60" y2="215.30" stroke="#1f77b4" stroke-width="1.9" stroke-dasharray="7.0,3.1"/><path d="M204.00,237.40 C204.37,236.18 205.33,232.42 206.20,230.10 C207.07,227.78 208.22,225.17 209.20,223.50 C210.18,221.83 211.13,220.83 212.10,220.10 C213.07,219.37 213.78,219.10 215.00,219.10 C216.22,219.10 217.93,219.62 219.40,220.10 C220.87,220.58 222.33,221.68 223.80,222.00 C225.27,222.32 226.75,222.23 228.20,222.00 C229.65,221.77 231.05,221.00 232.50,220.60 C233.95,220.20 235.43,219.53 236.90,219.60 C238.37,219.67 239.83,220.10 241.30,221.00 C242.77,221.90 243.98,223.12 245.70,225.00 C247.42,226.88 249.65,229.87 251.60,232.30 C253.55,234.73 255.45,237.17 257.40,239.60 C259.35,242.03 261.60,244.72 263.30,246.90 C265.00,249.08 266.15,250.87 267.60,252.70 C269.05,254.53 270.28,256.43 272.00,257.90 C273.72,259.37 275.95,260.65 277.90,261.50 C279.85,262.35 281.63,262.68 283.70,263.00 C285.77,263.32 287.98,263.17 290.30,263.40 C292.62,263.63 295.40,263.87 297.60,264.40 C299.80,264.93 301.55,265.73 303.50,266.60 C305.45,267.47 307.35,268.75 309.30,269.60 C311.25,270.45 313.25,271.17 315.20,271.70 C317.15,272.23 319.05,272.57 321.00,272.80 C322.95,273.03 319.47,273.05 326.90,273.10 C334.33,273.15 359.15,273.10 365.60,273.10" fill="none" stroke="#ff7f0e" stroke-width="2.0" stroke-linejoin="round" stroke-linecap="butt"/><line x1="215.00" y1="275.90" x2="215.00" y2="215.30" stroke="#ff7f0e" stroke-width="1.9" stroke-dasharray="1.9,3.15"/><line x1="265.00" y1="275.90" x2="265.00" y2="215.30" stroke="#ff7f0e" stroke-width="1.9" stroke-dasharray="1.9,3.15"/><line x1="237.20" y1="275.90" x2="237.20" y2="215.30" stroke="#ff7f0e" stroke-width="1.9" stroke-dasharray="7.0,3.1"/><rect x="196.10" y="215.30" width="177.10" height="60.60" fill="none" stroke="#000" stroke-width="1.6"/><line x1="204.00" y1="275.90" x2="204.00" y2="281.50" stroke="#000" stroke-width="1.6"/><g transform="translate(204.00,295.60) scale(1.070,1)"><text x="0" y="0" class="tk" text-anchor="middle">0.00</text></g><line x1="244.25" y1="275.90" x2="244.25" y2="281.50" stroke="#000" stroke-width="1.6"/><g transform="translate(244.25,295.60) scale(1.070,1)"><text x="0" y="0" class="tk" text-anchor="middle">0.25</text></g><line x1="284.50" y1="275.90" x2="284.50" y2="281.50" stroke="#000" stroke-width="1.6"/><g transform="translate(284.50,295.60) scale(1.070,1)"><text x="0" y="0" class="tk" text-anchor="middle">0.50</text></g><line x1="325.00" y1="275.90" x2="325.00" y2="281.50" stroke="#000" stroke-width="1.6"/><g transform="translate(325.00,295.60) scale(1.070,1)"><text x="0" y="0" class="tk" text-anchor="middle">0.75</text></g><line x1="365.50" y1="275.90" x2="365.50" y2="281.50" stroke="#000" stroke-width="1.6"/><g transform="translate(365.50,295.60) scale(1.070,1)"><text x="0" y="0" class="tk" text-anchor="middle">1.00</text></g><g transform="translate(279.60,313.70) scale(1.4000,1)"><text id="lab9" x="0" y="0" style="stroke-width:0.00px"><tspan font-style="italic" font-size="15.00" dy="0.00" dx="0.00">ξ</tspan></text></g></g><g><path d="M396.30,269.80 C397.52,269.63 401.17,268.80 403.60,268.80 C406.03,268.80 408.47,269.35 410.90,269.80 C413.33,270.25 415.77,271.00 418.20,271.50 C420.63,272.00 423.37,272.52 425.50,272.80 C427.63,273.08 429.50,273.12 431.00,273.20 C432.50,273.28 433.23,273.37 434.50,273.30 C435.77,273.23 437.13,273.12 438.60,272.80 C440.07,272.48 441.73,272.08 443.30,271.40 C444.87,270.72 446.43,269.83 448.00,268.70 C449.57,267.57 451.28,266.05 452.70,264.60 C454.12,263.15 455.40,261.52 456.50,260.00 C457.60,258.48 458.35,257.12 459.30,255.50 C460.25,253.88 461.23,252.22 462.20,250.30 C463.17,248.38 464.02,246.63 465.10,244.00 C466.18,241.37 467.48,237.60 468.70,234.50 C469.92,231.40 471.30,227.83 472.40,225.40 C473.50,222.97 474.45,221.08 475.30,219.90 C476.15,218.72 476.77,218.47 477.50,218.30 C478.23,218.13 478.85,218.22 479.70,218.90 C480.55,219.58 481.62,220.73 482.60,222.40 C483.58,224.07 484.62,226.40 485.60,228.90 C486.58,231.40 487.15,234.32 488.50,237.40 C489.85,240.48 492.38,244.73 493.70,247.40 C495.02,250.07 495.48,251.72 496.40,253.40 C497.32,255.08 497.97,256.05 499.20,257.50 C500.43,258.95 502.27,260.87 503.80,262.10 C505.33,263.33 506.10,263.90 508.40,264.90 C510.70,265.90 514.53,267.18 517.60,268.10 C520.67,269.02 523.73,269.78 526.80,270.40 C529.87,271.02 532.93,271.42 536.00,271.80 C539.07,272.18 541.43,272.48 545.20,272.70 C548.97,272.92 556.37,273.03 558.60,273.10" fill="none" stroke="#1f77b4" stroke-width="2.0" stroke-linejoin="round" stroke-linecap="butt"/><line x1="462.50" y1="275.90" x2="462.50" y2="215.30" stroke="#1f77b4" stroke-width="1.9" stroke-dasharray="1.9,3.15"/><line x1="495.30" y1="275.90" x2="495.30" y2="215.30" stroke="#1f77b4" stroke-width="1.9" stroke-dasharray="1.9,3.15"/><line x1="478.30" y1="275.90" x2="478.30" y2="215.30" stroke="#1f77b4" stroke-width="1.9" stroke-dasharray="7.0,3.1"/><path d="M396.30,268.80 C397.03,268.63 399.00,268.03 400.70,267.80 C402.40,267.57 404.55,267.30 406.50,267.40 C408.45,267.50 410.45,267.92 412.40,268.40 C414.35,268.88 416.20,269.73 418.20,270.30 C420.20,270.87 422.57,271.42 424.40,271.80 C426.23,272.18 427.62,272.43 429.20,272.60 C430.78,272.77 432.33,272.85 433.90,272.80 C435.47,272.75 437.03,272.62 438.60,272.30 C440.17,271.98 441.73,271.60 443.30,270.90 C444.87,270.20 446.43,269.28 448.00,268.10 C449.57,266.92 451.28,265.30 452.70,263.80 C454.12,262.30 455.40,260.67 456.50,259.10 C457.60,257.53 458.35,256.05 459.30,254.40 C460.25,252.75 461.23,251.18 462.20,249.20 C463.17,247.22 464.02,245.20 465.10,242.50 C466.18,239.80 467.48,236.05 468.70,233.00 C469.92,229.95 471.30,226.52 472.40,224.20 C473.50,221.88 474.45,220.18 475.30,219.10 C476.15,218.02 476.77,217.82 477.50,217.70 C478.23,217.58 478.85,217.68 479.70,218.40 C480.55,219.12 481.62,220.30 482.60,222.00 C483.58,223.70 484.62,226.03 485.60,228.60 C486.58,231.17 487.62,235.35 488.50,237.40 C489.38,239.45 490.03,239.08 490.90,240.90 C491.77,242.72 492.78,246.00 493.70,248.30 C494.62,250.60 495.48,252.87 496.40,254.70 C497.32,256.53 497.97,257.77 499.20,259.30 C500.43,260.83 502.27,262.67 503.80,263.90 C505.33,265.13 506.10,265.77 508.40,266.70 C510.70,267.63 514.53,268.73 517.60,269.50 C520.67,270.27 523.73,270.82 526.80,271.30 C529.87,271.78 532.93,272.12 536.00,272.40 C539.07,272.68 541.43,272.88 545.20,273.00 C548.97,273.12 556.37,273.08 558.60,273.10" fill="none" stroke="#ff7f0e" stroke-width="2.0" stroke-linejoin="round" stroke-linecap="butt"/><line x1="461.10" y1="275.90" x2="461.10" y2="215.30" stroke="#ff7f0e" stroke-width="1.9" stroke-dasharray="1.9,3.15"/><line x1="492.10" y1="275.90" x2="492.10" y2="215.30" stroke="#ff7f0e" stroke-width="1.9" stroke-dasharray="1.9,3.15"/><line x1="477.50" y1="275.90" x2="477.50" y2="215.30" stroke="#ff7f0e" stroke-width="1.9" stroke-dasharray="7.0,3.1"/><rect x="389.10" y="215.30" width="177.10" height="60.60" fill="none" stroke="#000" stroke-width="1.6"/><line x1="397.00" y1="275.90" x2="397.00" y2="281.50" stroke="#000" stroke-width="1.6"/><line x1="381.45" y1="292.60" x2="388.65" y2="292.60" stroke="#000" stroke-width="1.0"/><g transform="translate(413.25,295.60) scale(1.070,1)"><text x="0" y="0" class="tk" text-anchor="end">0.50</text></g><line x1="437.25" y1="275.90" x2="437.25" y2="281.50" stroke="#000" stroke-width="1.6"/><line x1="421.70" y1="292.60" x2="428.90" y2="292.60" stroke="#000" stroke-width="1.0"/><g transform="translate(453.50,295.60) scale(1.070,1)"><text x="0" y="0" class="tk" text-anchor="end">0.25</text></g><line x1="477.50" y1="275.90" x2="477.50" y2="281.50" stroke="#000" stroke-width="1.6"/><g transform="translate(477.50,295.60) scale(1.070,1)"><text x="0" y="0" class="tk" text-anchor="middle">0.00</text></g><line x1="518.00" y1="275.90" x2="518.00" y2="281.50" stroke="#000" stroke-width="1.6"/><g transform="translate(518.00,295.60) scale(1.070,1)"><text x="0" y="0" class="tk" text-anchor="middle">0.25</text></g><line x1="558.50" y1="275.90" x2="558.50" y2="281.50" stroke="#000" stroke-width="1.6"/><g transform="translate(558.50,295.60) scale(1.070,1)"><text x="0" y="0" class="tk" text-anchor="middle">0.50</text></g><g transform="translate(472.67,313.90) scale(1.3333,1)"><text id="lab10" x="0" y="0" style="stroke-width:0.00px"><tspan font-style="italic" font-size="15.00" dy="0.00" dx="0.00">κ</tspan></text></g></g><g><path d="M589.40,271.60 C590.65,270.70 594.83,267.68 596.90,266.20 C598.97,264.72 600.15,263.85 601.80,262.70 C603.45,261.55 605.15,260.45 606.80,259.30 C608.45,258.15 610.05,256.97 611.70,255.80 C613.35,254.63 615.05,253.45 616.70,252.30 C618.35,251.15 619.95,249.97 621.60,248.90 C623.25,247.83 624.95,246.90 626.60,245.90 C628.25,244.90 629.85,243.88 631.50,242.90 C633.15,241.92 634.85,240.98 636.50,240.00 C638.15,239.02 640.12,237.87 641.40,237.00 C642.68,236.13 642.95,235.72 644.20,234.80 C645.45,233.88 647.33,232.53 648.90,231.50 C650.47,230.47 652.03,229.47 653.60,228.60 C655.17,227.73 656.73,226.93 658.30,226.30 C659.87,225.67 661.43,225.12 663.00,224.80 C664.57,224.48 666.12,224.42 667.70,224.40 C669.28,224.38 670.92,224.55 672.50,224.70 C674.08,224.85 675.63,225.07 677.20,225.30 C678.77,225.53 680.33,225.78 681.90,226.10 C683.47,226.42 685.17,226.95 686.60,227.20 C688.03,227.45 689.15,227.43 690.50,227.60 C691.85,227.77 693.22,228.00 694.70,228.20 C696.18,228.40 697.82,228.73 699.40,228.80 C700.98,228.87 702.62,228.87 704.20,228.60 C705.78,228.33 707.33,227.83 708.90,227.20 C710.47,226.57 712.03,225.67 713.60,224.80 C715.17,223.93 716.73,222.93 718.30,222.00 C719.87,221.07 721.43,219.90 723.00,219.20 C724.57,218.50 726.28,218.00 727.70,217.80 C729.12,217.60 730.23,217.68 731.50,218.00 C732.77,218.32 734.03,218.87 735.30,219.70 C736.57,220.53 737.85,221.58 739.10,223.00 C740.35,224.42 741.55,226.23 742.80,228.20 C744.05,230.17 745.33,232.45 746.60,234.80 C747.87,237.15 749.53,240.35 750.40,242.30 C751.27,244.25 751.57,245.80 751.80,246.50" fill="none" stroke="#1f77b4" stroke-width="2.0" stroke-linejoin="round" stroke-linecap="butt"/><line x1="632.10" y1="275.90" x2="632.10" y2="215.30" stroke="#1f77b4" stroke-width="1.9" stroke-dasharray="1.9,3.15"/><line x1="682.10" y1="275.90" x2="682.10" y2="215.30" stroke="#1f77b4" stroke-width="1.9" stroke-dasharray="7.0,3.1"/><path d="M589.40,273.40 C590.65,272.62 594.83,269.98 596.90,268.70 C598.97,267.42 600.15,266.67 601.80,265.70 C603.45,264.73 605.15,263.80 606.80,262.90 C608.45,262.00 610.05,261.32 611.70,260.30 C613.35,259.28 615.05,257.97 616.70,256.80 C618.35,255.63 619.95,254.45 621.60,253.30 C623.25,252.15 624.95,251.13 626.60,249.90 C628.25,248.67 629.85,247.15 631.50,245.90 C633.15,244.65 634.85,243.55 636.50,242.40 C638.15,241.25 640.12,239.88 641.40,239.00 C642.68,238.12 642.95,238.12 644.20,237.10 C645.45,236.08 647.33,234.32 648.90,232.90 C650.47,231.48 652.03,229.87 653.60,228.60 C655.17,227.33 656.73,226.32 658.30,225.30 C659.87,224.28 661.43,223.15 663.00,222.50 C664.57,221.85 666.12,221.58 667.70,221.40 C669.28,221.22 670.92,221.30 672.50,221.40 C674.08,221.50 675.63,221.73 677.20,222.00 C678.77,222.27 680.33,222.68 681.90,223.00 C683.47,223.32 685.17,223.65 686.60,223.90 C688.03,224.15 689.15,224.27 690.50,224.50 C691.85,224.73 693.22,225.05 694.70,225.30 C696.18,225.55 697.82,225.88 699.40,226.00 C700.98,226.12 702.62,226.20 704.20,226.00 C705.78,225.80 707.33,225.23 708.90,224.80 C710.47,224.37 712.03,224.02 713.60,223.40 C715.17,222.78 716.73,221.80 718.30,221.10 C719.87,220.40 721.43,219.68 723.00,219.20 C724.57,218.72 726.28,218.32 727.70,218.20 C729.12,218.08 730.23,218.18 731.50,218.50 C732.77,218.82 734.03,219.28 735.30,220.10 C736.57,220.92 737.85,221.98 739.10,223.40 C740.35,224.82 741.55,226.63 742.80,228.60 C744.05,230.57 745.33,233.00 746.60,235.20 C747.87,237.40 749.53,240.15 750.40,241.80 C751.27,243.45 751.57,244.55 751.80,245.10" fill="none" stroke="#ff7f0e" stroke-width="2.0" stroke-linejoin="round" stroke-linecap="butt"/><line x1="635.70" y1="275.90" x2="635.70" y2="215.30" stroke="#ff7f0e" stroke-width="1.9" stroke-dasharray="1.9,3.15"/><line x1="729.00" y1="275.90" x2="729.00" y2="215.30" stroke="#ff7f0e" stroke-width="1.9" stroke-dasharray="1.9,3.15"/><line x1="683.80" y1="275.90" x2="683.80" y2="215.30" stroke="#ff7f0e" stroke-width="1.9" stroke-dasharray="7.0,3.1"/><rect x="582.20" y="215.30" width="177.10" height="60.60" fill="none" stroke="#000" stroke-width="1.6"/><line x1="590.00" y1="275.90" x2="590.00" y2="281.50" stroke="#000" stroke-width="1.6"/><g transform="translate(590.00,295.60) scale(1.070,1)"><text x="0" y="0" class="tk" text-anchor="middle">1</text></g><line x1="630.50" y1="275.90" x2="630.50" y2="281.50" stroke="#000" stroke-width="1.6"/><g transform="translate(630.50,295.60) scale(1.070,1)"><text x="0" y="0" class="tk" text-anchor="middle">2</text></g><line x1="670.75" y1="275.90" x2="670.75" y2="281.50" stroke="#000" stroke-width="1.6"/><g transform="translate(670.75,295.60) scale(1.070,1)"><text x="0" y="0" class="tk" text-anchor="middle">3</text></g><line x1="711.00" y1="275.90" x2="711.00" y2="281.50" stroke="#000" stroke-width="1.6"/><g transform="translate(711.00,295.60) scale(1.070,1)"><text x="0" y="0" class="tk" text-anchor="middle">4</text></g><line x1="751.25" y1="275.90" x2="751.25" y2="281.50" stroke="#000" stroke-width="1.6"/><g transform="translate(751.25,295.60) scale(1.070,1)"><text x="0" y="0" class="tk" text-anchor="middle">5</text></g><g fill="none" stroke="#000" stroke-linecap="round"><path d="M667.3,309.9 C667.9,308.2 668.9,307.3 669.9,307.3 C671.2,307.3 671.9,308.3 672.5,310.2" stroke-width="1.05"/><path d="M674.8,307.4 C674.2,309.2 673.4,310.6 672.9,311.6 C672.2,313.2 671.9,314.8 671.7,316.2" stroke-width="1.25"/></g></g><g><path d="M10.30,362.70 C11.03,361.48 13.23,357.72 14.70,355.40 C16.17,353.08 17.63,350.88 19.10,348.80 C20.57,346.72 22.03,344.73 23.50,342.90 C24.97,341.07 26.45,339.38 27.90,337.80 C29.35,336.22 30.75,334.73 32.20,333.40 C33.65,332.07 35.13,330.85 36.60,329.80 C38.07,328.75 39.53,327.83 41.00,327.10 C42.47,326.37 43.93,325.80 45.40,325.40 C46.87,325.00 48.33,324.82 49.80,324.70 C51.27,324.58 52.73,324.58 54.20,324.70 C55.67,324.82 57.15,325.05 58.60,325.40 C60.05,325.75 61.45,326.20 62.90,326.80 C64.35,327.40 65.83,328.13 67.30,329.00 C68.77,329.87 70.23,330.90 71.70,332.00 C73.17,333.10 74.63,334.27 76.10,335.60 C77.57,336.93 79.03,338.42 80.50,340.00 C81.97,341.58 83.40,343.30 84.90,345.10 C86.40,346.90 87.92,348.85 89.50,350.80 C91.08,352.75 92.85,354.95 94.40,356.80 C95.95,358.65 97.10,360.18 98.80,361.90 C100.50,363.62 102.42,365.52 104.60,367.10 C106.78,368.68 109.47,370.18 111.90,371.40 C114.33,372.62 116.52,373.58 119.20,374.40 C121.88,375.22 125.07,375.75 128.00,376.30 C130.93,376.85 133.87,377.25 136.80,377.70 C139.73,378.15 142.68,378.65 145.60,379.00 C148.52,379.35 149.80,379.62 154.30,379.80 C158.80,379.98 169.55,380.05 172.60,380.10" fill="none" stroke="#1f77b4" stroke-width="2.0" stroke-linejoin="round" stroke-linecap="butt"/><line x1="30.80" y1="383.10" x2="30.80" y2="322.50" stroke="#1f77b4" stroke-width="1.9" stroke-dasharray="1.9,3.15"/><line x1="86.80" y1="383.10" x2="86.80" y2="322.50" stroke="#1f77b4" stroke-width="1.9" stroke-dasharray="1.9,3.15"/><line x1="57.50" y1="383.10" x2="57.50" y2="322.50" stroke="#1f77b4" stroke-width="1.9" stroke-dasharray="7.0,3.1"/><path d="M10.30,356.80 C11.03,355.58 13.23,351.68 14.70,349.50 C16.17,347.32 17.63,345.53 19.10,343.70 C20.57,341.87 22.03,339.97 23.50,338.50 C24.97,337.03 26.45,336.12 27.90,334.90 C29.35,333.68 30.75,332.25 32.20,331.20 C33.65,330.15 35.13,329.37 36.60,328.60 C38.07,327.83 39.53,327.13 41.00,326.60 C42.47,326.07 43.93,325.65 45.40,325.40 C46.87,325.15 48.33,324.98 49.80,325.10 C51.27,325.22 52.73,325.68 54.20,326.10 C55.67,326.52 57.15,327.03 58.60,327.60 C60.05,328.17 61.45,328.90 62.90,329.50 C64.35,330.10 65.83,330.55 67.30,331.20 C68.77,331.85 70.23,332.53 71.70,333.40 C73.17,334.27 74.63,335.18 76.10,336.40 C77.57,337.62 79.03,339.12 80.50,340.70 C81.97,342.28 83.40,344.02 84.90,345.90 C86.40,347.78 87.92,349.90 89.50,352.00 C91.08,354.10 92.85,356.55 94.40,358.50 C95.95,360.45 97.10,362.03 98.80,363.70 C100.50,365.37 102.42,367.03 104.60,368.50 C106.78,369.97 109.47,371.35 111.90,372.50 C114.33,373.65 116.52,374.53 119.20,375.40 C121.88,376.27 125.07,377.10 128.00,377.70 C130.93,378.30 133.87,378.65 136.80,379.00 C139.73,379.35 142.68,379.62 145.60,379.80 C148.52,379.98 149.80,380.03 154.30,380.10 C158.80,380.17 169.55,380.18 172.60,380.20" fill="none" stroke="#ff7f0e" stroke-width="2.0" stroke-linejoin="round" stroke-linecap="butt"/><line x1="29.00" y1="383.10" x2="29.00" y2="322.50" stroke="#ff7f0e" stroke-width="1.9" stroke-dasharray="1.9,3.15"/><line x1="84.10" y1="383.10" x2="84.10" y2="322.50" stroke="#ff7f0e" stroke-width="1.9" stroke-dasharray="1.9,3.15"/><line x1="54.90" y1="383.10" x2="54.90" y2="322.50" stroke="#ff7f0e" stroke-width="1.9" stroke-dasharray="7.0,3.1"/><rect x="3.00" y="322.50" width="177.10" height="60.60" fill="none" stroke="#000" stroke-width="1.6"/><line x1="10.75" y1="383.10" x2="10.75" y2="388.70" stroke="#000" stroke-width="1.6"/><g transform="translate(10.75,402.80) scale(1.070,1)"><text x="0" y="0" class="tk" text-anchor="middle">0.00</text></g><line x1="51.25" y1="383.10" x2="51.25" y2="388.70" stroke="#000" stroke-width="1.6"/><g transform="translate(51.25,402.80) scale(1.070,1)"><text x="0" y="0" class="tk" text-anchor="middle">0.25</text></g><line x1="91.75" y1="383.10" x2="91.75" y2="388.70" stroke="#000" stroke-width="1.6"/><g transform="translate(91.75,402.80) scale(1.070,1)"><text x="0" y="0" class="tk" text-anchor="middle">0.50</text></g><line x1="132.00" y1="383.10" x2="132.00" y2="388.70" stroke="#000" stroke-width="1.6"/><g transform="translate(132.00,402.80) scale(1.070,1)"><text x="0" y="0" class="tk" text-anchor="middle">0.75</text></g><line x1="172.50" y1="383.10" x2="172.50" y2="388.70" stroke="#000" stroke-width="1.6"/><g transform="translate(172.50,402.80) scale(1.070,1)"><text x="0" y="0" class="tk" text-anchor="middle">1.00</text></g><g transform="translate(78.92,419.30) scale(1.1630,1)"><text id="lab12" x="0" y="0"><tspan font-style="italic" font-size="15.00" dy="0.00" dx="0.00">f</tspan><tspan font-style="normal" font-size="10.80" dy="2.20" dx="0.00">ellip</tspan></text></g></g><g><path d="M203.30,380.60 C204.52,380.47 208.17,379.98 210.60,379.80 C213.03,379.62 215.47,379.50 217.90,379.50 C220.33,379.50 222.77,379.80 225.20,379.80 C227.63,379.80 230.03,379.62 232.50,379.50 C234.97,379.38 237.10,379.33 240.00,379.10 C242.90,378.87 247.42,378.38 249.90,378.10 C252.38,377.82 253.25,377.68 254.90,377.40 C256.55,377.12 258.15,376.85 259.80,376.40 C261.45,375.95 263.15,375.48 264.80,374.70 C266.45,373.92 268.05,373.03 269.70,371.70 C271.35,370.37 273.05,368.60 274.70,366.70 C276.35,364.80 277.95,362.60 279.60,360.30 C281.25,358.00 282.95,355.30 284.60,352.90 C286.25,350.50 288.02,348.22 289.50,345.90 C290.98,343.58 292.25,340.85 293.50,339.00 C294.75,337.15 295.83,336.02 297.00,334.80 C298.17,333.58 299.25,332.53 300.50,331.70 C301.75,330.87 303.13,330.28 304.50,329.80 C305.87,329.32 307.42,328.88 308.70,328.80 C309.98,328.72 310.63,328.77 312.20,329.30 C313.77,329.83 316.38,331.43 318.10,332.00 C319.82,332.57 321.03,332.78 322.50,332.70 C323.97,332.62 325.20,332.12 326.90,331.50 C328.60,330.88 330.75,329.82 332.70,329.00 C334.65,328.18 336.65,327.25 338.60,326.60 C340.55,325.95 342.70,325.18 344.40,325.10 C346.10,325.02 347.33,325.32 348.80,326.10 C350.27,326.88 351.73,327.97 353.20,329.80 C354.67,331.63 356.13,334.42 357.60,337.10 C359.07,339.78 360.67,343.35 362.00,345.90 C363.33,348.45 365.00,351.32 365.60,352.40" fill="none" stroke="#1f77b4" stroke-width="2.0" stroke-linejoin="round" stroke-linecap="butt"/><line x1="291.30" y1="383.10" x2="291.30" y2="322.50" stroke="#1f77b4" stroke-width="1.9" stroke-dasharray="1.9,3.15"/><line x1="350.30" y1="383.10" x2="350.30" y2="322.50" stroke="#1f77b4" stroke-width="1.9" stroke-dasharray="1.9,3.15"/><line x1="321.00" y1="383.10" x2="321.00" y2="322.50" stroke="#1f77b4" stroke-width="1.9" stroke-dasharray="7.0,3.1"/><path d="M203.30,379.80 C204.52,379.65 208.17,379.00 210.60,378.90 C213.03,378.80 215.47,379.10 217.90,379.20 C220.33,379.30 222.77,379.53 225.20,379.50 C227.63,379.47 230.03,379.23 232.50,379.00 C234.97,378.77 237.92,378.37 240.00,378.10 C242.08,377.83 243.35,377.68 245.00,377.40 C246.65,377.12 248.25,376.78 249.90,376.40 C251.55,376.02 253.25,375.58 254.90,375.10 C256.55,374.62 258.15,374.15 259.80,373.50 C261.45,372.85 263.15,372.08 264.80,371.20 C266.45,370.32 268.05,369.43 269.70,368.20 C271.35,366.97 273.05,365.53 274.70,363.80 C276.35,362.07 277.95,359.95 279.60,357.80 C281.25,355.65 282.95,353.28 284.60,350.90 C286.25,348.52 288.02,345.57 289.50,343.50 C290.98,341.43 292.25,339.82 293.50,338.50 C294.75,337.18 295.83,336.35 297.00,335.60 C298.17,334.85 299.25,334.43 300.50,334.00 C301.75,333.57 303.17,333.18 304.50,333.00 C305.83,332.82 307.22,332.87 308.50,332.90 C309.78,332.93 310.60,333.03 312.20,333.20 C313.80,333.37 316.15,333.73 318.10,333.90 C320.05,334.07 321.95,334.35 323.90,334.20 C325.85,334.05 327.85,333.62 329.80,333.00 C331.75,332.38 333.65,331.28 335.60,330.50 C337.55,329.72 339.78,328.72 341.50,328.30 C343.22,327.88 344.43,327.75 345.90,328.00 C347.37,328.25 348.85,328.65 350.30,329.80 C351.75,330.95 353.15,332.83 354.60,334.90 C356.05,336.97 357.65,339.77 359.00,342.20 C360.35,344.63 361.60,347.43 362.70,349.50 C363.80,351.57 365.12,353.75 365.60,354.60" fill="none" stroke="#ff7f0e" stroke-width="2.0" stroke-linejoin="round" stroke-linecap="butt"/><line x1="287.80" y1="383.10" x2="287.80" y2="322.50" stroke="#ff7f0e" stroke-width="1.9" stroke-dasharray="1.9,3.15"/><line x1="349.50" y1="383.10" x2="349.50" y2="322.50" stroke="#ff7f0e" stroke-width="1.9" stroke-dasharray="1.9,3.15"/><line x1="320.30" y1="383.10" x2="320.30" y2="322.50" stroke="#ff7f0e" stroke-width="1.9" stroke-dasharray="7.0,3.1"/><rect x="196.10" y="322.50" width="177.10" height="60.60" fill="none" stroke="#000" stroke-width="1.6"/><line x1="204.00" y1="383.10" x2="204.00" y2="388.70" stroke="#000" stroke-width="1.6"/><g transform="translate(204.00,402.80) scale(1.070,1)"><text x="0" y="0" class="tk" text-anchor="middle">0.00</text></g><line x1="244.25" y1="383.10" x2="244.25" y2="388.70" stroke="#000" stroke-width="1.6"/><g transform="translate(244.25,402.80) scale(1.070,1)"><text x="0" y="0" class="tk" text-anchor="middle">0.25</text></g><line x1="284.50" y1="383.10" x2="284.50" y2="388.70" stroke="#000" stroke-width="1.6"/><g transform="translate(284.50,402.80) scale(1.070,1)"><text x="0" y="0" class="tk" text-anchor="middle">0.50</text></g><line x1="325.00" y1="383.10" x2="325.00" y2="388.70" stroke="#000" stroke-width="1.6"/><g transform="translate(325.00,402.80) scale(1.070,1)"><text x="0" y="0" class="tk" text-anchor="middle">0.75</text></g><line x1="365.50" y1="383.10" x2="365.50" y2="388.70" stroke="#000" stroke-width="1.6"/><g transform="translate(365.50,402.80) scale(1.070,1)"><text x="0" y="0" class="tk" text-anchor="middle">1.00</text></g><g transform="translate(272.00,419.30) scale(1.0833,1)"><text id="lab13" x="0" y="0"><tspan font-style="italic" font-size="15.00" dy="0.00" dx="0.00">f</tspan><tspan font-style="normal" font-size="10.80" dy="2.20" dx="0.00">flow</tspan></text></g></g><g><path d="M396.30,372.50 C397.03,372.15 399.00,371.12 400.70,370.40 C402.40,369.68 404.55,368.75 406.50,368.20 C408.45,367.65 410.45,367.47 412.40,367.10 C414.35,366.73 416.25,366.42 418.20,366.00 C420.15,365.58 421.90,365.33 424.10,364.60 C426.30,363.87 429.45,362.78 431.40,361.60 C433.35,360.42 434.33,359.15 435.80,357.50 C437.27,355.85 438.73,353.88 440.20,351.70 C441.67,349.52 443.13,346.95 444.60,344.40 C446.07,341.85 447.53,338.72 449.00,336.40 C450.47,334.08 451.93,332.13 453.40,330.50 C454.87,328.87 456.35,327.50 457.80,326.60 C459.25,325.70 460.65,325.18 462.10,325.10 C463.55,325.02 465.03,325.45 466.50,326.10 C467.97,326.75 469.43,328.02 470.90,329.00 C472.37,329.98 474.28,331.08 475.30,332.00 C476.32,332.92 476.15,333.45 477.00,334.50 C477.85,335.55 479.10,337.27 480.40,338.30 C481.70,339.33 483.33,340.17 484.80,340.70 C486.27,341.23 487.75,341.32 489.20,341.50 C490.65,341.68 492.05,341.62 493.50,341.80 C494.95,341.98 496.43,342.17 497.90,342.60 C499.37,343.03 500.83,343.50 502.30,344.40 C503.77,345.30 505.23,346.48 506.70,348.00 C508.17,349.52 509.63,351.67 511.10,353.50 C512.57,355.33 514.03,357.23 515.50,359.00 C516.97,360.77 518.20,362.35 519.90,364.10 C521.60,365.85 523.75,367.97 525.70,369.50 C527.65,371.03 529.65,372.17 531.60,373.30 C533.55,374.43 535.22,375.40 537.40,376.30 C539.58,377.20 542.27,378.12 544.70,378.70 C547.13,379.28 549.68,379.55 552.00,379.80 C554.32,380.05 557.50,380.13 558.60,380.20" fill="none" stroke="#1f77b4" stroke-width="2.0" stroke-linejoin="round" stroke-linecap="butt"/><line x1="439.90" y1="383.10" x2="439.90" y2="322.50" stroke="#1f77b4" stroke-width="1.9" stroke-dasharray="1.9,3.15"/><line x1="503.30" y1="383.10" x2="503.30" y2="322.50" stroke="#1f77b4" stroke-width="1.9" stroke-dasharray="1.9,3.15"/><line x1="469.80" y1="383.10" x2="469.80" y2="322.50" stroke="#1f77b4" stroke-width="1.9" stroke-dasharray="7.0,3.1"/><path d="M396.30,373.60 C397.03,373.23 399.00,372.13 400.70,371.40 C402.40,370.67 404.55,369.75 406.50,369.20 C408.45,368.65 410.45,368.45 412.40,368.10 C414.35,367.75 416.25,367.52 418.20,367.10 C420.15,366.68 421.90,366.33 424.10,365.60 C426.30,364.87 429.45,363.80 431.40,362.70 C433.35,361.60 434.33,360.47 435.80,359.00 C437.27,357.53 438.73,355.85 440.20,353.90 C441.67,351.95 443.13,349.62 444.60,347.30 C446.07,344.98 447.53,342.32 449.00,340.00 C450.47,337.68 451.93,335.23 453.40,333.40 C454.87,331.57 456.35,329.97 457.80,329.00 C459.25,328.03 460.65,327.72 462.10,327.60 C463.55,327.48 465.03,327.82 466.50,328.30 C467.97,328.78 469.43,329.77 470.90,330.50 C472.37,331.23 474.28,332.03 475.30,332.70 C476.32,333.37 476.15,333.72 477.00,334.50 C477.85,335.28 479.10,336.60 480.40,337.40 C481.70,338.20 483.33,338.92 484.80,339.30 C486.27,339.68 487.75,339.65 489.20,339.70 C490.65,339.75 492.05,339.55 493.50,339.60 C494.95,339.65 496.43,339.68 497.90,340.00 C499.37,340.32 500.83,340.65 502.30,341.50 C503.77,342.35 505.23,343.65 506.70,345.10 C508.17,346.55 509.63,348.37 511.10,350.20 C512.57,352.03 514.03,354.27 515.50,356.10 C516.97,357.93 518.20,359.37 519.90,361.20 C521.60,363.03 523.75,365.40 525.70,367.10 C527.65,368.80 529.65,370.07 531.60,371.40 C533.55,372.73 535.22,374.00 537.40,375.10 C539.58,376.20 542.27,377.27 544.70,378.00 C547.13,378.73 549.68,379.13 552.00,379.50 C554.32,379.87 557.50,380.08 558.60,380.20" fill="none" stroke="#ff7f0e" stroke-width="2.0" stroke-linejoin="round" stroke-linecap="butt"/><line x1="441.30" y1="383.10" x2="441.30" y2="322.50" stroke="#ff7f0e" stroke-width="1.9" stroke-dasharray="1.9,3.15"/><line x1="506.00" y1="383.10" x2="506.00" y2="322.50" stroke="#ff7f0e" stroke-width="1.9" stroke-dasharray="1.9,3.15"/><line x1="472.30" y1="383.10" x2="472.30" y2="322.50" stroke="#ff7f0e" stroke-width="1.9" stroke-dasharray="7.0,3.1"/><rect x="389.10" y="322.50" width="177.10" height="60.60" fill="none" stroke="#000" stroke-width="1.6"/><line x1="397.00" y1="383.10" x2="397.00" y2="388.70" stroke="#000" stroke-width="1.6"/><g transform="translate(397.00,402.80) scale(1.070,1)"><text x="0" y="0" class="tk" text-anchor="middle">0</text></g><line x1="433.00" y1="383.10" x2="433.00" y2="388.70" stroke="#000" stroke-width="1.6"/><g transform="translate(433.00,402.80) scale(1.070,1)"><text x="0" y="0" class="tk" text-anchor="middle">20</text></g><line x1="468.75" y1="383.10" x2="468.75" y2="388.70" stroke="#000" stroke-width="1.6"/><g transform="translate(468.75,402.80) scale(1.070,1)"><text x="0" y="0" class="tk" text-anchor="middle">40</text></g><line x1="504.25" y1="383.10" x2="504.25" y2="388.70" stroke="#000" stroke-width="1.6"/><g transform="translate(504.25,402.80) scale(1.070,1)"><text x="0" y="0" class="tk" text-anchor="middle">60</text></g><line x1="540.00" y1="383.10" x2="540.00" y2="388.70" stroke="#000" stroke-width="1.6"/><g transform="translate(540.00,402.80) scale(1.070,1)"><text x="0" y="0" class="tk" text-anchor="middle">80</text></g><g transform="translate(438.96,420.30) scale(1.0417,1)"><text id="lab14" x="0" y="0"><tspan font-style="italic" font-size="15.00" dy="0.00" dx="0.00">θ</tspan><tspan font-style="italic" font-size="10.80" dy="3.00" dx="0.00">e</tspan><tspan font-style="normal" font-size="15.00" dy="-3.00" dx="1.50"> (degrees)</tspan></text></g></g><g><path d="M589.30,380.20 C590.28,380.03 593.50,379.80 595.20,379.20 C596.90,378.60 598.05,378.02 599.50,376.60 C600.95,375.18 602.43,373.15 603.90,370.70 C605.37,368.25 606.95,365.07 608.30,361.90 C609.65,358.73 610.90,354.73 612.00,351.70 C613.10,348.67 613.93,346.25 614.90,343.70 C615.87,341.15 616.83,338.43 617.80,336.40 C618.77,334.37 619.72,332.65 620.70,331.50 C621.68,330.35 622.72,329.78 623.70,329.50 C624.68,329.22 625.63,329.38 626.60,329.80 C627.57,330.22 628.40,330.78 629.50,332.00 C630.60,333.22 631.98,335.15 633.20,337.10 C634.42,339.05 635.58,341.52 636.80,343.70 C638.02,345.88 639.15,347.90 640.50,350.20 C641.85,352.50 643.43,355.18 644.90,357.50 C646.37,359.82 647.85,362.15 649.30,364.10 C650.75,366.05 652.15,367.62 653.60,369.20 C655.05,370.78 656.28,372.50 658.00,373.60 C659.72,374.70 661.95,375.37 663.90,375.80 C665.85,376.23 668.13,376.15 669.70,376.20 C671.27,376.25 671.48,375.97 673.30,376.10 C675.12,376.23 678.17,376.68 680.60,377.00 C683.03,377.32 685.47,377.83 687.90,378.00 C690.33,378.17 692.77,378.12 695.20,378.00 C697.63,377.88 700.05,377.50 702.50,377.30 C704.95,377.10 707.45,376.92 709.90,376.80 C712.35,376.68 714.77,376.63 717.20,376.60 C719.63,376.57 722.32,376.40 724.50,376.60 C726.68,376.80 728.35,377.35 730.30,377.80 C732.25,378.25 734.00,378.92 736.20,379.30 C738.40,379.68 740.82,379.92 743.50,380.10 C746.18,380.28 750.83,380.35 752.30,380.40" fill="none" stroke="#1f77b4" stroke-width="2.0" stroke-linejoin="round" stroke-linecap="butt"/><line x1="615.30" y1="383.10" x2="615.30" y2="322.50" stroke="#1f77b4" stroke-width="1.9" stroke-dasharray="1.9,3.15"/><line x1="651.90" y1="383.10" x2="651.90" y2="322.50" stroke="#1f77b4" stroke-width="1.9" stroke-dasharray="1.9,3.15"/><line x1="628.80" y1="383.10" x2="628.80" y2="322.50" stroke="#1f77b4" stroke-width="1.9" stroke-dasharray="7.0,3.1"/><path d="M589.30,380.20 C590.03,380.03 592.23,379.80 593.70,379.20 C595.17,378.60 596.63,378.02 598.10,376.60 C599.57,375.18 601.03,373.15 602.50,370.70 C603.97,368.25 605.57,365.07 606.90,361.90 C608.23,358.73 609.42,355.10 610.50,351.70 C611.58,348.30 612.42,344.67 613.40,341.50 C614.38,338.33 615.42,335.10 616.40,332.70 C617.38,330.30 618.33,328.37 619.30,327.10 C620.27,325.83 621.23,325.27 622.20,325.10 C623.17,324.93 624.12,325.32 625.10,326.10 C626.08,326.88 627.12,328.22 628.10,329.80 C629.08,331.38 629.92,333.28 631.00,335.60 C632.08,337.92 633.38,341.02 634.60,343.70 C635.82,346.38 637.07,349.27 638.30,351.70 C639.53,354.13 640.67,356.10 642.00,358.30 C643.33,360.50 644.85,362.95 646.30,364.90 C647.75,366.85 649.23,368.55 650.70,370.00 C652.17,371.45 653.63,372.63 655.10,373.60 C656.57,374.57 657.80,375.25 659.50,375.80 C661.20,376.35 663.00,376.65 665.30,376.90 C667.60,377.15 670.75,377.12 673.30,377.30 C675.85,377.48 678.17,377.73 680.60,378.00 C683.03,378.27 685.47,378.78 687.90,378.90 C690.33,379.02 692.77,378.85 695.20,378.70 C697.63,378.55 700.05,378.18 702.50,378.00 C704.95,377.82 707.45,377.77 709.90,377.60 C712.35,377.43 714.77,377.10 717.20,377.00 C719.63,376.90 722.32,376.83 724.50,377.00 C726.68,377.17 728.35,377.58 730.30,378.00 C732.25,378.42 734.00,379.13 736.20,379.50 C738.40,379.87 740.82,380.05 743.50,380.20 C746.18,380.35 750.83,380.37 752.30,380.40" fill="none" stroke="#ff7f0e" stroke-width="2.0" stroke-linejoin="round" stroke-linecap="butt"/><line x1="613.40" y1="383.10" x2="613.40" y2="322.50" stroke="#ff7f0e" stroke-width="1.9" stroke-dasharray="1.9,3.15"/><line x1="645.90" y1="383.10" x2="645.90" y2="322.50" stroke="#ff7f0e" stroke-width="1.9" stroke-dasharray="1.9,3.15"/><line x1="626.60" y1="383.10" x2="626.60" y2="322.50" stroke="#ff7f0e" stroke-width="1.9" stroke-dasharray="7.0,3.1"/><rect x="582.20" y="322.50" width="177.10" height="60.60" fill="none" stroke="#000" stroke-width="1.6"/><line x1="608.00" y1="383.10" x2="608.00" y2="388.70" stroke="#000" stroke-width="1.6"/><g transform="translate(608.00,402.80) scale(1.070,1)"><text x="0" y="0" class="tk" text-anchor="middle">0</text></g><line x1="649.50" y1="383.10" x2="649.50" y2="388.70" stroke="#000" stroke-width="1.6"/><g transform="translate(649.50,402.80) scale(1.070,1)"><text x="0" y="0" class="tk" text-anchor="middle">25</text></g><line x1="691.25" y1="383.10" x2="691.25" y2="388.70" stroke="#000" stroke-width="1.6"/><g transform="translate(691.25,402.80) scale(1.070,1)"><text x="0" y="0" class="tk" text-anchor="middle">50</text></g><line x1="732.75" y1="383.10" x2="732.75" y2="388.70" stroke="#000" stroke-width="1.6"/><g transform="translate(732.75,402.80) scale(1.070,1)"><text x="0" y="0" class="tk" text-anchor="middle">75</text></g><g transform="translate(623.48,420.30) scale(1.0941,1)"><text id="lab15" x="0" y="0"><tspan font-style="italic" font-size="15.00" dy="0.00" dx="0.00">σ</tspan><tspan font-style="italic" font-size="10.80" dy="3.00" dx="0.00">r</tspan><tspan font-style="normal" font-size="15.00" dy="-3.00" dx="1.50"> (light days)</tspan></text></g></g></svg></body></html>
